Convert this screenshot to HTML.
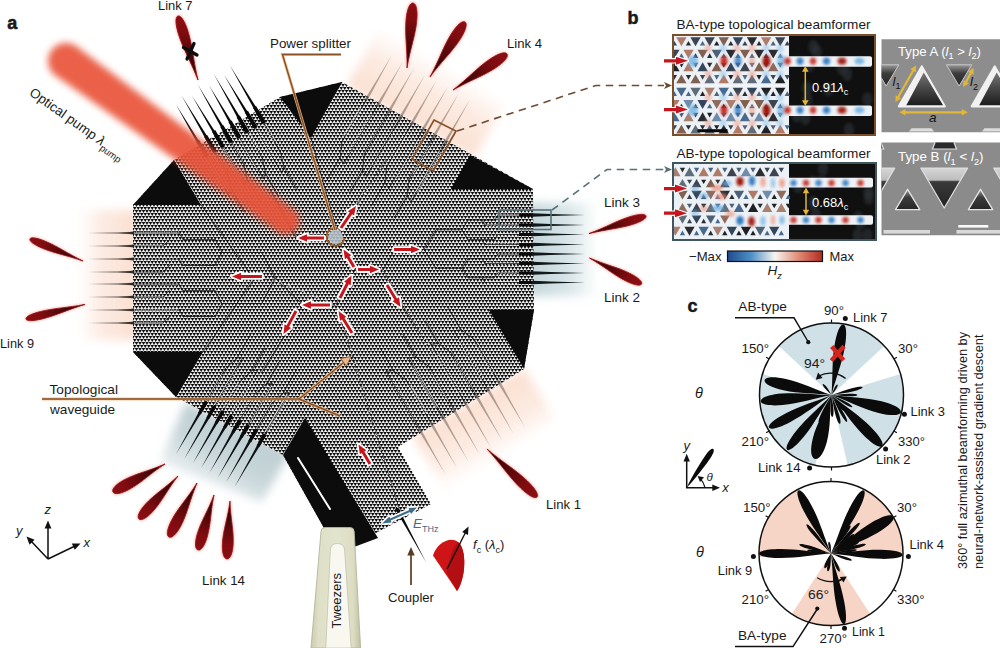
<!DOCTYPE html>
<html lang="en"><head><meta charset="utf-8"><title>Topological beamformer chip figure</title>
<style>
html,body{margin:0;padding:0;background:#fff;}
body{width:1000px;height:648px;overflow:hidden;font-family:"Liberation Sans", sans-serif;}
svg{display:block;}
svg text{font-family:"Liberation Sans", sans-serif;fill:#1a1a1a;}
.lobe{fill:url(#lg);}
</style></head><body>
<svg width="1000" height="648" viewBox="0 0 1000 648">
<defs>
<pattern id="lat" width="7" height="6" patternUnits="userSpaceOnUse"><rect width="7" height="6" fill="#f1f1f1"/><g fill="#0a0a0a"><polygon points="-1.78,-0.03 1.78,-0.03 0,3.06"/><polygon points="1.72,-0.03 5.28,-0.03 3.5,3.06"/><polygon points="5.22,-0.03 8.78,-0.03 7,3.06"/><polygon points="-0.03,2.97 3.53,2.97 1.75,6.06"/><polygon points="3.47,2.97 7.03,2.97 5.25,6.06"/><polygon points="-3.53,2.97 0.03,2.97 -1.75,6.06"/><polygon points="6.97,2.97 10.53,2.97 8.75,6.06"/><polygon points="-0.03,-3.03 3.53,-3.03 1.75,0.06"/><polygon points="3.47,-3.03 7.03,-3.03 5.25,0.06"/><polygon points="-1.78,5.97 1.78,5.97 0,9.06"/><polygon points="1.72,5.97 5.28,5.97 3.5,9.06"/><polygon points="5.22,5.97 8.78,5.97 7,9.06"/></g></pattern>
<filter id="b05" x="-10%" y="-10%" width="120%" height="120%"><feGaussianBlur stdDeviation="0.6"/></filter>
<filter id="b1" x="-30%" y="-30%" width="160%" height="160%"><feGaussianBlur stdDeviation="1"/></filter>
<filter id="b3" x="-30%" y="-30%" width="160%" height="160%"><feGaussianBlur stdDeviation="3.8"/></filter>
<filter id="b5" x="-30%" y="-30%" width="160%" height="160%"><feGaussianBlur stdDeviation="5"/></filter>
<filter id="b8" x="-40%" y="-40%" width="180%" height="180%"><feGaussianBlur stdDeviation="8"/></filter>
<filter id="b2" x="-30%" y="-30%" width="160%" height="160%"><feGaussianBlur stdDeviation="1.8"/></filter>
<linearGradient id="lg" x1="0" y1="0" x2="1" y2="0"><stop offset="0" stop-color="#160304"/><stop offset="0.35" stop-color="#4a0709"/><stop offset="0.75" stop-color="#800c10"/><stop offset="1" stop-color="#8c0e13"/></linearGradient>
<linearGradient id="cb" x1="0" y1="0" x2="1" y2="0"><stop offset="0" stop-color="#1f4b8e"/><stop offset="0.25" stop-color="#4f8fc6"/><stop offset="0.5" stop-color="#f7f5f3"/><stop offset="0.75" stop-color="#e08a74"/><stop offset="1" stop-color="#b22a22"/></linearGradient>
<linearGradient id="twz" x1="0" y1="0" x2="1" y2="0"><stop offset="0" stop-color="#c9caae"/><stop offset="0.15" stop-color="#dedfc6"/><stop offset="0.5" stop-color="#e3e4cd"/><stop offset="0.85" stop-color="#dcddc3"/><stop offset="1" stop-color="#bfc0a4"/></linearGradient>
<clipPath id="chipclip"><polygon points="342,82 533,189 534,310 524,369 398,447 431,504 338,553 283,455 176,397 133,352 133,205 174,160 280,97"/></clipPath>
</defs>
<rect width="1000" height="648" fill="#ffffff"/>
<defs><linearGradient id="g1" gradientUnits="userSpaceOnUse" x1="133" y1="0" x2="78" y2="0"><stop offset="0" stop-color="#fbe0d2" stop-opacity="1.0"/><stop offset="0.55" stop-color="#fbe0d2" stop-opacity="0.65"/><stop offset="1" stop-color="#fbe0d2" stop-opacity="0.0"/></linearGradient></defs>
<polygon points="140,210 140,340 78,340 78,210" fill="url(#g1)" filter="url(#b5)"/>
<defs><linearGradient id="g2" gradientUnits="userSpaceOnUse" x1="410" y1="120" x2="443" y2="63"><stop offset="0" stop-color="#fbe0d2" stop-opacity="1.0"/><stop offset="0.55" stop-color="#fbe0d2" stop-opacity="0.65"/><stop offset="1" stop-color="#fbe0d2" stop-opacity="0.0"/></linearGradient></defs>
<polygon points="346,86 380,28 508,100 474,158" fill="url(#g2)" filter="url(#b5)"/>
<defs><linearGradient id="g3" gradientUnits="userSpaceOnUse" x1="470" y1="404" x2="502" y2="459"><stop offset="0" stop-color="#fbe0d2" stop-opacity="1.0"/><stop offset="0.55" stop-color="#fbe0d2" stop-opacity="0.65"/><stop offset="1" stop-color="#fbe0d2" stop-opacity="0.0"/></linearGradient></defs>
<polygon points="412,436 524,368 556,420 446,490" fill="url(#g3)" filter="url(#b5)"/>
<defs><linearGradient id="g4" gradientUnits="userSpaceOnUse" x1="533" y1="0" x2="598" y2="0"><stop offset="0" stop-color="#c3d6da" stop-opacity="1.0"/><stop offset="0.55" stop-color="#c3d6da" stop-opacity="0.65"/><stop offset="1" stop-color="#c3d6da" stop-opacity="0.0"/></linearGradient></defs>
<polygon points="526,203 596,203 596,296 526,296" fill="url(#g4)" filter="url(#b5)"/>
<defs><linearGradient id="g5" gradientUnits="userSpaceOnUse" x1="240" y1="422" x2="204" y2="484"><stop offset="0" stop-color="#bccdd1" stop-opacity="1.0"/><stop offset="0.55" stop-color="#bccdd1" stop-opacity="0.8250000000000001"/><stop offset="1" stop-color="#bccdd1" stop-opacity="0.35"/></linearGradient></defs>
<polygon points="186,402 290,452 262,502 160,462" fill="url(#g5)" filter="url(#b5)"/>
<polygon points="342,82 533,189 534,310 524,369 398,447 431,504 338,553 283,455 176,397 133,352 133,205 174,160 280,97" fill="url(#lat)"/>
<g clip-path="url(#chipclip)" stroke="#ffffff" stroke-width="2.4" stroke-dasharray="1.4 2.1" fill="none" opacity="0.8">
<path d="M134,233 L178,233"/>
<path d="M134,246 L164,246"/>
<path d="M134,259 L178,259"/>
<path d="M134,272 L164,272"/>
<path d="M134,284 L178,284"/>
<path d="M134,297 L164,297"/>
<path d="M134,310 L178,310"/>
<path d="M134,323 L164,323"/>
<path d="M520,215 L496,215"/>
<path d="M520,225 L486,225"/>
<path d="M520,234.5 L496,234.5"/>
<path d="M520,244.5 L486,244.5"/>
<path d="M520,254 L496,254"/>
<path d="M520,263.5 L486,263.5"/>
<path d="M520,273 L496,273"/>
<path d="M520,282.5 L486,282.5"/>
<path d="M206.4,156.22 L225.4,189.13"/>
<path d="M214.56,151.4 L225.56,170.45"/>
<path d="M222.71,146.57 L241.71,179.48"/>
<path d="M230.87,141.74 L241.87,160.79"/>
<path d="M239.03,136.91 L258.03,169.82"/>
<path d="M247.19,132.08 L258.19,151.13"/>
<path d="M255.34,127.25 L274.34,160.16"/>
<path d="M263.5,122.42 L274.5,141.48"/>
<path d="M361,108.72 L345,136.44"/>
<path d="M372.19,115 L349.19,154.83"/>
<path d="M383.37,121.27 L367.37,148.98"/>
<path d="M394.56,127.54 L371.56,167.38"/>
<path d="M405.74,133.81 L389.74,161.52"/>
<path d="M416.93,140.08 L393.93,179.92"/>
<path d="M428.11,146.35 L412.11,174.07"/>
<path d="M439.3,152.62 L416.3,192.46"/>
<path d="M414,419.88 L391,380.04"/>
<path d="M425.33,413.09 L409.33,385.38"/>
<path d="M436.66,406.3 L413.66,366.47"/>
<path d="M447.99,399.52 L431.99,371.81"/>
<path d="M459.31,392.73 L436.31,352.9"/>
<path d="M470.64,385.95 L454.64,358.23"/>
<path d="M481.97,379.16 L458.97,339.32"/>
<path d="M493.3,372.38 L477.3,344.66"/>
<path d="M208.4,398.08 L222.4,373.83"/>
<path d="M216.77,402.73 L237.77,366.36"/>
<path d="M225.14,407.39 L239.14,383.14"/>
<path d="M233.51,412.05 L254.51,375.67"/>
<path d="M241.89,416.7 L255.89,392.46"/>
<path d="M250.26,421.36 L271.26,384.99"/>
<path d="M258.63,426.02 L272.63,401.77"/>
<path d="M267,430.68 L288,394.3"/>
</g>
<g clip-path="url(#chipclip)" stroke="#0d0d0d" stroke-width="0.9" fill="none" stroke-linecap="round" opacity="0.8">
<path d="M133,233 L179,233"/>
<path d="M133,246 L163,246"/>
<path d="M133,259 L179,259"/>
<path d="M133,272 L163,272"/>
<path d="M133,284 L179,284"/>
<path d="M133,297 L163,297"/>
<path d="M133,310 L179,310"/>
<path d="M133,323 L163,323"/>
<path d="M163,246 L169.75,239.5"/>
<path d="M179,233 L183,239.5"/>
<path d="M183,239.5 L215,239.5"/>
<path d="M163,272 L169.75,265.5"/>
<path d="M179,259 L183,265.5"/>
<path d="M183,265.5 L215,265.5"/>
<path d="M163,297 L169.75,290.5"/>
<path d="M179,284 L183,290.5"/>
<path d="M183,290.5 L215,290.5"/>
<path d="M163,323 L169.75,316.5"/>
<path d="M179,310 L183,316.5"/>
<path d="M183,316.5 L215,316.5"/>
<path d="M215,239.5 L222,252.5"/>
<path d="M215,265.5 L222,252.5"/>
<path d="M222,252.5 L262,252.5"/>
<path d="M215,290.5 L222,303.5"/>
<path d="M215,316.5 L222,303.5"/>
<path d="M222,303.5 L262,303.5"/>
<path d="M262,253 L275,278"/>
<path d="M262,303 L275,278"/>
<path d="M275,278 L303,305"/>
<path d="M303,305 L336,305"/>
<path d="M533,215 L498,215"/>
<path d="M533,225 L485,225"/>
<path d="M533,234.5 L498,234.5"/>
<path d="M533,244.5 L485,244.5"/>
<path d="M533,254 L498,254"/>
<path d="M533,263.5 L485,263.5"/>
<path d="M533,273 L498,273"/>
<path d="M533,282.5 L485,282.5"/>
<path d="M498,215 L494,220"/>
<path d="M485,225 L482,220"/>
<path d="M494,220 L468,220"/>
<path d="M498,234.5 L494,239.5"/>
<path d="M485,244.5 L482,239.5"/>
<path d="M494,239.5 L468,239.5"/>
<path d="M498,254 L494,258.75"/>
<path d="M485,263.5 L482,258.75"/>
<path d="M494,258.75 L468,258.75"/>
<path d="M498,273 L494,277.75"/>
<path d="M485,282.5 L482,277.75"/>
<path d="M494,277.75 L468,277.75"/>
<path d="M468,220 L462,229.75"/>
<path d="M468,239.5 L462,229.75"/>
<path d="M462,229.75 L436,229.75"/>
<path d="M468,258.75 L462,268.25"/>
<path d="M468,277.75 L462,268.25"/>
<path d="M462,268.25 L436,268.25"/>
<path d="M436,229.75 L424,249.5"/>
<path d="M436,268.25 L424,249.5"/>
<path d="M424,249.5 L395,249.5"/>
<path d="M395,249.5 L383,270"/>
<path d="M199.4,144.1 L228.4,194.33"/>
<path d="M207.56,139.27 L227.56,173.91"/>
<path d="M215.71,134.44 L244.71,184.67"/>
<path d="M223.87,129.61 L243.87,164.26"/>
<path d="M232.03,124.79 L263.03,178.48"/>
<path d="M240.19,119.96 L262.19,158.06"/>
<path d="M248.34,115.13 L281.34,172.29"/>
<path d="M256.5,110.3 L280.5,151.87"/>
<path d="M228.4,194.33 L230.98,189.32"/>
<path d="M227.56,173.91 L230.98,189.32"/>
<path d="M230.98,189.32 L243.98,211.83"/>
<path d="M244.71,184.67 L247.29,179.66"/>
<path d="M243.87,164.26 L247.29,179.66"/>
<path d="M247.29,179.66 L260.29,202.18"/>
<path d="M263.03,178.48 L265.61,173.47"/>
<path d="M262.19,158.06 L265.61,173.47"/>
<path d="M265.61,173.47 L278.61,195.98"/>
<path d="M281.34,172.29 L283.92,167.27"/>
<path d="M280.5,151.87 L283.92,167.27"/>
<path d="M283.92,167.27 L296.92,189.79"/>
<path d="M368,96.6 L342,141.63"/>
<path d="M379.19,102.87 L344.19,163.49"/>
<path d="M390.37,109.14 L364.37,154.18"/>
<path d="M401.56,115.41 L366.56,176.04"/>
<path d="M412.74,121.69 L386.74,166.72"/>
<path d="M423.93,127.96 L388.93,188.58"/>
<path d="M435.11,134.23 L409.11,179.26"/>
<path d="M446.3,140.5 L411.3,201.12"/>
<path d="M342,141.63 L340.09,157.76"/>
<path d="M344.19,163.49 L340.09,157.76"/>
<path d="M340.09,157.76 L327.09,180.28"/>
<path d="M364.37,154.18 L362.46,170.3"/>
<path d="M366.56,176.04 L362.46,170.3"/>
<path d="M362.46,170.3 L349.46,192.82"/>
<path d="M386.74,166.72 L384.84,182.85"/>
<path d="M388.93,188.58 L384.84,182.85"/>
<path d="M384.84,182.85 L371.84,205.36"/>
<path d="M409.11,179.26 L407.21,195.39"/>
<path d="M411.3,201.12 L407.21,195.39"/>
<path d="M407.21,195.39 L394.21,217.9"/>
<path d="M421,432 L386,371.38"/>
<path d="M432.33,425.21 L406.33,380.18"/>
<path d="M443.66,418.43 L408.66,357.81"/>
<path d="M454.99,411.64 L428.99,366.61"/>
<path d="M466.31,404.86 L431.31,344.24"/>
<path d="M477.64,398.07 L451.64,353.04"/>
<path d="M488.97,391.29 L453.97,330.66"/>
<path d="M500.3,384.5 L474.3,339.47"/>
<path d="M386,371.38 L393.16,370.58"/>
<path d="M406.33,380.18 L393.16,370.58"/>
<path d="M393.16,370.58 L380.16,348.07"/>
<path d="M408.66,357.81 L415.82,357.01"/>
<path d="M428.99,366.61 L415.82,357.01"/>
<path d="M415.82,357.01 L402.82,334.5"/>
<path d="M431.31,344.24 L438.48,343.44"/>
<path d="M451.64,353.04 L438.48,343.44"/>
<path d="M438.48,343.44 L425.48,320.92"/>
<path d="M453.97,330.66 L461.14,329.87"/>
<path d="M474.3,339.47 L461.14,329.87"/>
<path d="M461.14,329.87 L448.14,307.35"/>
<path d="M201.4,410.2 L225.4,368.63"/>
<path d="M209.77,414.86 L242.77,357.7"/>
<path d="M218.14,419.51 L240.14,381.41"/>
<path d="M226.51,424.17 L257.51,370.48"/>
<path d="M234.89,428.83 L254.89,394.19"/>
<path d="M243.26,433.49 L272.26,383.26"/>
<path d="M251.63,438.14 L271.63,403.5"/>
<path d="M260,442.8 L289,392.57"/>
<path d="M225.4,368.63 L237.09,357.97"/>
<path d="M242.77,357.7 L237.09,357.97"/>
<path d="M237.09,357.97 L250.09,335.45"/>
<path d="M240.14,381.41 L251.83,370.75"/>
<path d="M257.51,370.48 L251.83,370.75"/>
<path d="M251.83,370.75 L264.83,348.23"/>
<path d="M254.89,394.19 L266.57,383.53"/>
<path d="M272.26,383.26 L266.57,383.53"/>
<path d="M266.57,383.53 L279.57,361.01"/>
<path d="M271.63,403.5 L283.31,392.84"/>
<path d="M289,392.57 L283.31,392.84"/>
<path d="M283.31,392.84 L296.31,370.32"/>
<path d="M400,512 L339,312"/>
<path d="M336,305 L355,270"/>
<path d="M355,270 L336,237"/>
<path d="M355,270 L383,270"/>
<path d="M336,237 L296,237"/>
<path d="M336,237 L357,204"/>
<path d="M357,204 L386,160"/>
<path d="M296,237 L270,190"/>
<path d="M383,270 L404,308"/>
<path d="M404,308 L432,352"/>
<path d="M303,305 L283,338"/>
<path d="M283,338 L262,372"/>
<path d="M201,205 L254,279"/>
<path d="M203,352 L254,279"/>
<path d="M311,138 L336,228"/>
</g>
<g clip-path="url(#chipclip)" stroke="#fff" stroke-width="1.3" stroke-dasharray="1.2 3.8" opacity="0.85">
<path d="M398,508 L340,314" fill="none"/><path d="M336,237 L298,237" fill="none"/><path d="M337,236 L386,160" fill="none"/><path d="M270,278 L336,305" fill="none"/><path d="M383,270 L432,352" fill="none"/>
</g>
<polygon points="280,97 342,82 311,138" fill="#0c0c0c"/>
<polygon points="133,205 174,160 201,205" fill="#0c0c0c"/>
<polygon points="133,352 203,352 176,397" fill="#0c0c0c"/>
<polygon points="451,189 470,155 533,189" fill="#0c0c0c"/>
<polygon points="489,310 534,310 524,369" fill="#0c0c0c"/>
<polygon points="305,418 283,455 338,553 378,538" fill="#0c0c0c"/>
<path d="M298,458 L330,509" stroke="#fff" stroke-width="2" stroke-linecap="round"/>
<g filter="url(#b05)">
<polygon points="134,231.7 117.9,232.28 88,233 117.9,233.72 134,234.3" fill="#4a4340" opacity="0.62"/>
<polygon points="134,231.6 128.4,232.23 118,233 128.4,233.77 134,234.4" fill="#1a1716" opacity="0.8"/>
<polygon points="134,244.7 117.9,245.28 88,246 117.9,246.72 134,247.3" fill="#4a4340" opacity="0.62"/>
<polygon points="134,244.6 128.4,245.23 118,246 128.4,246.77 134,247.4" fill="#1a1716" opacity="0.8"/>
<polygon points="134,257.7 117.9,258.29 88,259 117.9,259.71 134,260.3" fill="#4a4340" opacity="0.62"/>
<polygon points="134,257.6 128.4,258.23 118,259 128.4,259.77 134,260.4" fill="#1a1716" opacity="0.8"/>
<polygon points="134,270.7 117.9,271.29 88,272 117.9,272.71 134,273.3" fill="#4a4340" opacity="0.62"/>
<polygon points="134,270.6 128.4,271.23 118,272 128.4,272.77 134,273.4" fill="#1a1716" opacity="0.8"/>
<polygon points="134,282.7 117.9,283.29 88,284 117.9,284.71 134,285.3" fill="#4a4340" opacity="0.62"/>
<polygon points="134,282.6 128.4,283.23 118,284 128.4,284.77 134,285.4" fill="#1a1716" opacity="0.8"/>
<polygon points="134,295.7 117.9,296.29 88,297 117.9,297.71 134,298.3" fill="#4a4340" opacity="0.62"/>
<polygon points="134,295.6 128.4,296.23 118,297 128.4,297.77 134,298.4" fill="#1a1716" opacity="0.8"/>
<polygon points="134,308.7 117.9,309.29 88,310 117.9,310.71 134,311.3" fill="#4a4340" opacity="0.62"/>
<polygon points="134,308.6 128.4,309.23 118,310 128.4,310.77 134,311.4" fill="#1a1716" opacity="0.8"/>
<polygon points="134,321.7 117.9,322.29 88,323 117.9,323.71 134,324.3" fill="#4a4340" opacity="0.62"/>
<polygon points="134,321.6 128.4,322.23 118,323 128.4,323.77 134,324.4" fill="#1a1716" opacity="0.8"/>
</g>
<rect x="519" y="213.5" width="14" height="3" fill="#0a0a0a"/>
<polygon points="532,216.65 550.55,215.91 585,215 550.55,214.09 532,213.35" fill="#10181a" opacity="1"/>
<rect x="519" y="223.5" width="14" height="3" fill="#0a0a0a"/>
<polygon points="532,226.65 550.55,225.91 585,225 550.55,224.09 532,223.35" fill="#10181a" opacity="1"/>
<rect x="519" y="233" width="14" height="3" fill="#0a0a0a"/>
<polygon points="532,236.15 550.55,235.41 585,234.5 550.55,233.59 532,232.85" fill="#10181a" opacity="1"/>
<rect x="519" y="243" width="14" height="3" fill="#0a0a0a"/>
<polygon points="532,246.15 550.55,245.41 585,244.5 550.55,243.59 532,242.85" fill="#10181a" opacity="1"/>
<rect x="519" y="252.5" width="14" height="3" fill="#0a0a0a"/>
<polygon points="532,255.65 550.55,254.91 585,254 550.55,253.09 532,252.35" fill="#10181a" opacity="1"/>
<rect x="519" y="262" width="14" height="3" fill="#0a0a0a"/>
<polygon points="532,265.15 550.55,264.41 585,263.5 550.55,262.59 532,261.85" fill="#10181a" opacity="1"/>
<rect x="519" y="271.5" width="14" height="3" fill="#0a0a0a"/>
<polygon points="532,274.65 550.55,273.91 585,273 550.55,272.09 532,271.35" fill="#10181a" opacity="1"/>
<rect x="519" y="281" width="14" height="3" fill="#0a0a0a"/>
<polygon points="532,284.15 550.55,283.41 585,282.5 550.55,281.59 532,280.85" fill="#10181a" opacity="1"/>
<polygon points="208.21,155.16 196.76,137.57 176,104.6 194.76,138.74 204.59,157.29" fill="#0a0a0a" opacity="1"/>
<path d="M197.4,140.64 L206.9,157.09" stroke="#0a0a0a" stroke-width="3.6"/>
<polygon points="216.37,150.33 204.05,131.32 181.7,95.7 202.06,132.49 212.75,152.46" fill="#0a0a0a" opacity="1"/>
<path d="M205.56,135.81 L215.06,152.26" stroke="#0a0a0a" stroke-width="3.6"/>
<polygon points="224.51,145.48 212.95,128.17 192,95.7 210.98,129.36 220.92,147.65" fill="#0a0a0a" opacity="1"/>
<path d="M213.71,130.98 L223.21,147.43" stroke="#0a0a0a" stroke-width="3.6"/>
<polygon points="232.69,140.69 220.26,121.13 197.7,84.5 218.26,122.28 229.05,142.79" fill="#0a0a0a" opacity="1"/>
<path d="M221.87,126.15 L231.37,142.6" stroke="#0a0a0a" stroke-width="3.6"/>
<polygon points="240.84,135.85 229.52,118.27 209,85.3 227.52,119.43 237.21,137.97" fill="#0a0a0a" opacity="1"/>
<path d="M230.03,121.32 L239.53,137.78" stroke="#0a0a0a" stroke-width="3.6"/>
<polygon points="249.01,131.03 236.5,111.18 213.8,74 234.5,112.33 245.37,133.13" fill="#0a0a0a" opacity="1"/>
<path d="M238.19,116.49 L247.69,132.95" stroke="#0a0a0a" stroke-width="3.6"/>
<polygon points="257.15,126.18 245.44,108.34 224.2,74.9 243.45,109.52 253.54,128.33" fill="#0a0a0a" opacity="1"/>
<path d="M246.34,111.66 L255.84,128.12" stroke="#0a0a0a" stroke-width="3.6"/>
<polygon points="265.31,121.36 252.7,101.81 229.8,65.2 250.71,102.98 261.69,123.49" fill="#0a0a0a" opacity="1"/>
<path d="M254.5,106.84 L264,123.29" stroke="#0a0a0a" stroke-width="3.6"/>
<polygon points="367.3,100.81 375.81,84.71 392,55.03 374.39,83.89 364.7,99.31" fill="#7d6a60" opacity="0.6"/>
<polygon points="378.48,107.09 387,90.99 403.19,61.3 385.57,90.16 375.89,105.59" fill="#7d6a60" opacity="0.6"/>
<polygon points="389.67,113.36 398.19,97.26 414.37,67.57 396.76,96.43 387.07,111.86" fill="#7d6a60" opacity="0.6"/>
<polygon points="400.86,119.63 409.37,103.53 425.56,73.85 407.94,102.7 398.26,118.13" fill="#7d6a60" opacity="0.6"/>
<polygon points="412.04,125.9 420.56,109.8 436.74,80.12 419.13,108.98 409.44,124.4" fill="#7d6a60" opacity="0.6"/>
<polygon points="423.23,132.17 431.74,116.07 447.93,86.39 430.31,115.25 420.63,130.67" fill="#7d6a60" opacity="0.6"/>
<polygon points="434.41,138.44 442.93,122.34 459.11,92.66 441.5,121.52 431.82,136.94" fill="#7d6a60" opacity="0.6"/>
<polygon points="445.6,144.71 454.11,128.61 470.3,98.93 452.69,127.79 443,143.21" fill="#7d6a60" opacity="0.6"/>
<polygon points="417.7,429.29 427.74,445.32 446,475.3 429.16,444.49 420.3,427.79" fill="#7d6a60" opacity="0.6"/>
<polygon points="429.03,422.5 439.06,438.53 457.33,468.52 440.49,437.71 431.63,421" fill="#7d6a60" opacity="0.6"/>
<polygon points="440.36,415.71 450.39,431.74 468.66,461.73 451.82,430.92 442.96,414.21" fill="#7d6a60" opacity="0.6"/>
<polygon points="451.69,408.93 461.72,424.96 479.99,454.94 463.15,424.13 454.28,407.43" fill="#7d6a60" opacity="0.6"/>
<polygon points="463.02,402.14 473.05,418.17 491.31,448.16 474.48,417.35 465.61,400.64" fill="#7d6a60" opacity="0.6"/>
<polygon points="474.34,395.36 484.38,411.39 502.64,441.37 485.81,410.56 476.94,393.86" fill="#7d6a60" opacity="0.6"/>
<polygon points="485.67,388.57 495.71,404.6 513.97,434.59 497.14,403.78 488.27,387.07" fill="#7d6a60" opacity="0.6"/>
<polygon points="497,381.79 507.04,397.82 525.3,427.8 508.46,396.99 499.6,380.29" fill="#7d6a60" opacity="0.6"/>
<polygon points="204.25,401.46 194.5,420.07 175.9,454.37 196.3,421.11 207.55,403.36" fill="#0c1113" opacity="1"/>
<path d="M206.4,401.54 L199.4,413.66" stroke="#0a0a0a" stroke-width="3.2"/>
<polygon points="212.63,406.11 202.87,424.73 184.27,459.02 204.68,425.77 215.92,408.01" fill="#0c1113" opacity="1"/>
<path d="M214.77,406.2 L207.77,418.32" stroke="#0a0a0a" stroke-width="3.2"/>
<polygon points="221,410.77 211.24,429.38 192.64,463.68 213.05,430.43 224.29,412.67" fill="#0c1113" opacity="1"/>
<path d="M223.14,410.85 L216.14,422.98" stroke="#0a0a0a" stroke-width="3.2"/>
<polygon points="229.37,415.43 219.61,434.04 201.01,468.34 221.42,435.09 232.66,417.33" fill="#0c1113" opacity="1"/>
<path d="M231.51,415.51 L224.51,427.64" stroke="#0a0a0a" stroke-width="3.2"/>
<polygon points="237.74,420.08 227.98,438.7 209.39,473 229.79,439.74 241.03,421.98" fill="#0c1113" opacity="1"/>
<path d="M239.89,420.17 L232.89,432.29" stroke="#0a0a0a" stroke-width="3.2"/>
<polygon points="246.11,424.74 236.35,443.36 217.76,477.65 238.16,444.4 249.4,426.64" fill="#0c1113" opacity="1"/>
<path d="M248.26,424.83 L241.26,436.95" stroke="#0a0a0a" stroke-width="3.2"/>
<polygon points="254.48,429.4 244.72,448.01 226.13,482.31 246.53,449.06 257.77,431.3" fill="#0c1113" opacity="1"/>
<path d="M256.63,429.48 L249.63,441.61" stroke="#0a0a0a" stroke-width="3.2"/>
<polygon points="262.85,434.06 253.1,452.67 234.5,486.97 254.9,453.71 266.15,435.96" fill="#0c1113" opacity="1"/>
<path d="M265,434.14 L258,446.26" stroke="#0a0a0a" stroke-width="3.2"/>
<circle cx="335.5" cy="237" r="7.5" fill="#b9c6cc" opacity="0.85"/>
<path d="M341,229.5 A9,9 0 1 0 344.5,238" fill="none" stroke="#9a5a2a" stroke-width="1.8"/>
<polygon points="342.24,228.85 352.17,214.28 354.03,215.55 356,206 347.83,211.32 349.69,212.59 339.76,227.15" fill="#fff" stroke="#fff" stroke-width="3.6" stroke-linejoin="round"/><polygon points="342.24,228.85 352.17,214.28 354.03,215.55 356,206 347.83,211.32 349.69,212.59 339.76,227.15" fill="#c4161c"/>
<polygon points="324,236.5 307,236.5 307,234.25 298,238 307,241.75 307,239.5 324,239.5" fill="#fff" stroke="#fff" stroke-width="3.6" stroke-linejoin="round"/><polygon points="324,236.5 307,236.5 307,234.25 298,238 307,241.75 307,239.5 324,239.5" fill="#c4161c"/>
<polygon points="394,251.1 411,251.1 411,253.35 420,249.6 411,245.85 411,248.1 394,248.1" fill="#fff" stroke="#fff" stroke-width="3.6" stroke-linejoin="round"/><polygon points="394,251.1 411,251.1 411,253.35 420,249.6 411,245.85 411,248.1 394,248.1" fill="#c4161c"/>
<polygon points="355.29,266.23 349.42,256.45 351.35,255.29 343.5,249.5 344.91,259.15 346.84,257.99 352.71,267.77" fill="#fff" stroke="#fff" stroke-width="3.6" stroke-linejoin="round"/><polygon points="355.29,266.23 349.42,256.45 351.35,255.29 343.5,249.5 344.91,259.15 346.84,257.99 352.71,267.77" fill="#c4161c"/>
<polygon points="358,271.1 370,271.1 370,273.35 379,269.6 370,265.85 370,268.1 358,268.1" fill="#fff" stroke="#fff" stroke-width="3.6" stroke-linejoin="round"/><polygon points="358,271.1 370,271.1 370,273.35 379,269.6 370,265.85 370,268.1 358,268.1" fill="#c4161c"/>
<polygon points="341.34,298.68 348.74,284.2 350.74,285.22 351.5,275.5 344.06,281.81 346.07,282.83 338.66,297.32" fill="#fff" stroke="#fff" stroke-width="3.6" stroke-linejoin="round"/><polygon points="341.34,298.68 348.74,284.2 350.74,285.22 351.5,275.5 344.06,281.81 346.07,282.83 338.66,297.32" fill="#c4161c"/>
<polygon points="385.72,285.78 394.51,300.11 392.6,301.29 400.5,307 398.99,297.37 397.07,298.54 388.28,284.22" fill="#fff" stroke="#fff" stroke-width="3.6" stroke-linejoin="round"/><polygon points="385.72,285.78 394.51,300.11 392.6,301.29 400.5,307 398.99,297.37 397.07,298.54 388.28,284.22" fill="#c4161c"/>
<polygon points="262,274.9 241,274.9 241,272.65 232,276.4 241,280.15 241,277.9 262,277.9" fill="#fff" stroke="#fff" stroke-width="3.6" stroke-linejoin="round"/><polygon points="262,274.9 241,274.9 241,272.65 232,276.4 241,280.15 241,277.9 262,277.9" fill="#c4161c"/>
<polygon points="330,303.5 311,303.5 311,301.25 302,305 311,308.75 311,306.5 330,306.5" fill="#fff" stroke="#fff" stroke-width="3.6" stroke-linejoin="round"/><polygon points="330,303.5 311,303.5 311,301.25 302,305 311,308.75 311,306.5 330,306.5" fill="#c4161c"/>
<polygon points="294.68,310.28 286.48,325.38 284.5,324.3 283.5,334 291.09,327.88 289.12,326.81 297.32,311.72" fill="#fff" stroke="#fff" stroke-width="3.6" stroke-linejoin="round"/><polygon points="294.68,310.28 286.48,325.38 284.5,324.3 283.5,334 291.09,327.88 289.12,326.81 297.32,311.72" fill="#c4161c"/>
<polygon points="353.28,332.22 344.49,317.89 346.4,316.71 338.5,311 340.01,320.63 341.93,319.46 350.72,333.78" fill="#fff" stroke="#fff" stroke-width="3.6" stroke-linejoin="round"/><polygon points="353.28,332.22 344.49,317.89 346.4,316.71 338.5,311 340.01,320.63 341.93,319.46 350.72,333.78" fill="#c4161c"/>
<polygon points="371.29,463.24 364.36,451.49 366.3,450.35 358.5,444.5 359.84,454.16 361.78,453.01 368.71,464.76" fill="#fff" stroke="#fff" stroke-width="3.6" stroke-linejoin="round"/><polygon points="371.29,463.24 364.36,451.49 366.3,450.35 358.5,444.5 359.84,454.16 361.78,453.01 368.71,464.76" fill="#c4161c"/>
<g filter="url(#b3)" opacity="0.93"><polygon points="76.58,46.44 293.94,210.08 278.06,231.92 55.42,75.56" fill="#e9553b"/><circle cx="66" cy="61" r="18" fill="#e9553b"/><circle cx="286" cy="221" r="13.5" fill="#e9553b"/></g>
<g transform="translate(198,80) rotate(-107.35)"><path d="M0,0 C20.12,-1.25 33.53,-5 49.62,-5 C60.35,-5 67.05,-3 67.05,0 C67.05,3 60.35,5 49.62,5 C33.53,5 20.12,1.25 0,0Z" fill="#f7cdc6" stroke="#f7cdc6" stroke-width="2.6" filter="url(#b1)"/><path d="M0,0 C20.12,-1.25 33.53,-5 49.62,-5 C60.35,-5 67.05,-3 67.05,0 C67.05,3 60.35,5 49.62,5 C33.53,5 20.12,1.25 0,0Z" class="lobe" stroke="#9a1217" stroke-width="0.8" /></g>
<g transform="translate(407,68) rotate(-84.73)"><path d="M0,0 C19.58,-1.35 32.64,-5.4 48.3,-5.4 C58.75,-5.4 65.28,-3.24 65.28,0 C65.28,3.24 58.75,5.4 48.3,5.4 C32.64,5.4 19.58,1.35 0,0Z" fill="#f7cdc6" stroke="#f7cdc6" stroke-width="2.6" filter="url(#b1)"/><path d="M0,0 C19.58,-1.35 32.64,-5.4 48.3,-5.4 C58.75,-5.4 65.28,-3.24 65.28,0 C65.28,3.24 58.75,5.4 48.3,5.4 C32.64,5.4 19.58,1.35 0,0Z" class="lobe" stroke="#9a1217" stroke-width="0.8" /></g>
<g transform="translate(430,77) rotate(-57.53)"><path d="M0,0 C19.56,-1.3 32.6,-5.2 48.24,-5.2 C58.67,-5.2 65.19,-3.12 65.19,0 C65.19,3.12 58.67,5.2 48.24,5.2 C32.6,5.2 19.56,1.3 0,0Z" fill="#f7cdc6" stroke="#f7cdc6" stroke-width="2.6" filter="url(#b1)"/><path d="M0,0 C19.56,-1.3 32.6,-5.2 48.24,-5.2 C58.67,-5.2 65.19,-3.12 65.19,0 C65.19,3.12 58.67,5.2 48.24,5.2 C32.6,5.2 19.56,1.3 0,0Z" class="lobe" stroke="#9a1217" stroke-width="0.8" /></g>
<g transform="translate(453,90) rotate(-33.69)"><path d="M0,0 C19.47,-1.3 32.45,-5.2 48.03,-5.2 C58.41,-5.2 64.9,-3.12 64.9,0 C64.9,3.12 58.41,5.2 48.03,5.2 C32.45,5.2 19.47,1.3 0,0Z" fill="#f7cdc6" stroke="#f7cdc6" stroke-width="2.6" filter="url(#b1)"/><path d="M0,0 C19.47,-1.3 32.45,-5.2 48.03,-5.2 C58.41,-5.2 64.9,-3.12 64.9,0 C64.9,3.12 58.41,5.2 48.03,5.2 C32.45,5.2 19.47,1.3 0,0Z" class="lobe" stroke="#9a1217" stroke-width="0.8" /></g>
<g transform="translate(589,233.6) rotate(-17.16)"><path d="M0,0 C17.9,-1.02 29.83,-4.1 44.14,-4.1 C53.69,-4.1 59.66,-2.46 59.66,0 C59.66,2.46 53.69,4.1 44.14,4.1 C29.83,4.1 17.9,1.02 0,0Z" fill="#f7cdc6" stroke="#f7cdc6" stroke-width="2.6" filter="url(#b1)"/><path d="M0,0 C17.9,-1.02 29.83,-4.1 44.14,-4.1 C53.69,-4.1 59.66,-2.46 59.66,0 C59.66,2.46 53.69,4.1 44.14,4.1 C29.83,4.1 17.9,1.02 0,0Z" class="lobe" stroke="#9a1217" stroke-width="0.8" /></g>
<g transform="translate(589.5,258) rotate(26.57)"><path d="M0,0 C17.44,-1.07 29.07,-4.3 43.02,-4.3 C52.32,-4.3 58.14,-2.58 58.14,0 C58.14,2.58 52.32,4.3 43.02,4.3 C29.07,4.3 17.44,1.07 0,0Z" fill="#f7cdc6" stroke="#f7cdc6" stroke-width="2.6" filter="url(#b1)"/><path d="M0,0 C17.44,-1.07 29.07,-4.3 43.02,-4.3 C52.32,-4.3 58.14,-2.58 58.14,0 C58.14,2.58 52.32,4.3 43.02,4.3 C29.07,4.3 17.44,1.07 0,0Z" class="lobe" stroke="#9a1217" stroke-width="0.8" /></g>
<g transform="translate(487,449) rotate(43.83)"><path d="M0,0 C20.79,-1.23 34.66,-4.9 51.29,-4.9 C62.38,-4.9 69.31,-2.94 69.31,0 C69.31,2.94 62.38,4.9 51.29,4.9 C34.66,4.9 20.79,1.23 0,0Z" fill="#f7cdc6" stroke="#f7cdc6" stroke-width="2.6" filter="url(#b1)"/><path d="M0,0 C20.79,-1.23 34.66,-4.9 51.29,-4.9 C62.38,-4.9 69.31,-2.94 69.31,0 C69.31,2.94 62.38,4.9 51.29,4.9 C34.66,4.9 20.79,1.23 0,0Z" class="lobe" stroke="#9a1217" stroke-width="0.8" /></g>
<g transform="translate(165,464) rotate(151.7)"><path d="M0,0 C17.72,-1.35 29.53,-5.4 43.7,-5.4 C53.15,-5.4 59.06,-3.24 59.06,0 C59.06,3.24 53.15,5.4 43.7,5.4 C29.53,5.4 17.72,1.35 0,0Z" fill="#f7cdc6" stroke="#f7cdc6" stroke-width="2.6" filter="url(#b1)"/><path d="M0,0 C17.72,-1.35 29.53,-5.4 43.7,-5.4 C53.15,-5.4 59.06,-3.24 59.06,0 C59.06,3.24 53.15,5.4 43.7,5.4 C29.53,5.4 17.72,1.35 0,0Z" class="lobe" stroke="#9a1217" stroke-width="0.8" /></g>
<g transform="translate(178,476) rotate(132.21)"><path d="M0,0 C17.42,-1.3 29.03,-5.2 42.96,-5.2 C52.25,-5.2 58.05,-3.12 58.05,0 C58.05,3.12 52.25,5.2 42.96,5.2 C29.03,5.2 17.42,1.3 0,0Z" fill="#f7cdc6" stroke="#f7cdc6" stroke-width="2.6" filter="url(#b1)"/><path d="M0,0 C17.42,-1.3 29.03,-5.2 42.96,-5.2 C52.25,-5.2 58.05,-3.12 58.05,0 C58.05,3.12 52.25,5.2 42.96,5.2 C29.03,5.2 17.42,1.3 0,0Z" class="lobe" stroke="#9a1217" stroke-width="0.8" /></g>
<g transform="translate(197,483) rotate(117.41)"><path d="M0,0 C18.25,-1.35 30.41,-5.4 45.01,-5.4 C54.74,-5.4 60.83,-3.24 60.83,0 C60.83,3.24 54.74,5.4 45.01,5.4 C30.41,5.4 18.25,1.35 0,0Z" fill="#f7cdc6" stroke="#f7cdc6" stroke-width="2.6" filter="url(#b1)"/><path d="M0,0 C18.25,-1.35 30.41,-5.4 45.01,-5.4 C54.74,-5.4 60.83,-3.24 60.83,0 C60.83,3.24 54.74,5.4 45.01,5.4 C30.41,5.4 18.25,1.35 0,0Z" class="lobe" stroke="#9a1217" stroke-width="0.8" /></g>
<g transform="translate(214,495) rotate(106.22)"><path d="M0,0 C17.18,-1.3 28.64,-5.2 42.39,-5.2 C51.55,-5.2 57.28,-3.12 57.28,0 C57.28,3.12 51.55,5.2 42.39,5.2 C28.64,5.2 17.18,1.3 0,0Z" fill="#f7cdc6" stroke="#f7cdc6" stroke-width="2.6" filter="url(#b1)"/><path d="M0,0 C17.18,-1.3 28.64,-5.2 42.39,-5.2 C51.55,-5.2 57.28,-3.12 57.28,0 C57.28,3.12 51.55,5.2 42.39,5.2 C28.64,5.2 17.18,1.3 0,0Z" class="lobe" stroke="#9a1217" stroke-width="0.8" /></g>
<g transform="translate(230,501) rotate(92.96)"><path d="M0,0 C17.42,-1.35 29.04,-5.4 42.98,-5.4 C52.27,-5.4 58.08,-3.24 58.08,0 C58.08,3.24 52.27,5.4 42.98,5.4 C29.04,5.4 17.42,1.35 0,0Z" fill="#f7cdc6" stroke="#f7cdc6" stroke-width="2.6" filter="url(#b1)"/><path d="M0,0 C17.42,-1.35 29.04,-5.4 42.98,-5.4 C52.27,-5.4 58.08,-3.24 58.08,0 C58.08,3.24 52.27,5.4 42.98,5.4 C29.04,5.4 17.42,1.35 0,0Z" class="lobe" stroke="#9a1217" stroke-width="0.8" /></g>
<g transform="translate(83,261) rotate(-157.46)"><path d="M0,0 C17.22,-0.95 28.69,-3.8 42.46,-3.8 C51.65,-3.8 57.38,-2.28 57.38,0 C57.38,2.28 51.65,3.8 42.46,3.8 C28.69,3.8 17.22,0.95 0,0Z" fill="#f7cdc6" stroke="#f7cdc6" stroke-width="2.6" filter="url(#b1)"/><path d="M0,0 C17.22,-0.95 28.69,-3.8 42.46,-3.8 C51.65,-3.8 57.38,-2.28 57.38,0 C57.38,2.28 51.65,3.8 42.46,3.8 C28.69,3.8 17.22,0.95 0,0Z" class="lobe" stroke="#9a1217" stroke-width="0.8" /></g>
<g transform="translate(85,304.4) rotate(166.1)"><path d="M0,0 C18.23,-0.95 30.39,-3.8 44.98,-3.8 C54.7,-3.8 60.78,-2.28 60.78,0 C60.78,2.28 54.7,3.8 44.98,3.8 C30.39,3.8 18.23,0.95 0,0Z" fill="#f7cdc6" stroke="#f7cdc6" stroke-width="2.6" filter="url(#b1)"/><path d="M0,0 C18.23,-0.95 30.39,-3.8 44.98,-3.8 C54.7,-3.8 60.78,-2.28 60.78,0 C60.78,2.28 54.7,3.8 44.98,3.8 C30.39,3.8 18.23,0.95 0,0Z" class="lobe" stroke="#9a1217" stroke-width="0.8" /></g>
<path d="M183.5,47.5 L197,55 M194,43.5 L187,59" stroke="#0d0d0d" stroke-width="3.3" stroke-linecap="round"/>
<path d="M321,531.5 Q321,527.5 325,527.5 L350,527.5 Q354,527.5 354.2,531.5 L360.6,648 L311,648 Z" fill="url(#twz)" stroke="#b4b59c" stroke-width="0.9"/>
<path d="M330.3,550 Q330.6,543.5 337.4,543.5 Q344.2,543.5 344.6,550 L351.2,648 L325.8,648 Z" fill="#f8f8f1" stroke="#c3c4ab" stroke-width="0.8"/>
<path d="M341,54.6 L282.5,54.6 L335,230" fill="none" stroke="#e8b98c" stroke-width="3" stroke-linejoin="miter" opacity="0.9"/>
<path d="M341,54.6 L282.5,54.6 L335,230" fill="none" stroke="#8a4f22" stroke-width="1.5"/>
<path d="M42,399 L299,399 L348,359 M299,399 L340,416" fill="none" stroke="#e8b98c" stroke-width="3" opacity="0.9"/>
<path d="M42,399 L299,399 L348,359 M299,399 L340,416" fill="none" stroke="#8a4f22" stroke-width="1.4"/>
<path d="M351,356.5 L340.5,358.5 L346.5,366 Z" fill="#e8b98c" stroke="#8a4f22" stroke-width="0.8"/>
<polygon points="434,120 456,131 433,171 412,159" fill="none" stroke="#8a4f22" stroke-width="1.7"/>
<path d="M457,131 L596,85.5 L664,85.5" fill="none" stroke="#6d4a33" stroke-width="1.6" stroke-dasharray="7.5 5.5"/>
<path d="M672,85.5 L664,82 L666,85.5 L664,89 Z" fill="#6d4a33"/>
<rect x="499" y="210" width="52" height="19.5" fill="none" stroke="#587177" stroke-width="1.6"/>
<path d="M552,210 L607,169.5 L664,169.5" fill="none" stroke="#587177" stroke-width="1.6" stroke-dasharray="7.5 5.5"/>
<path d="M672,169.5 L664,166 L666,169.5 L664,173 Z" fill="#587177"/>
<polygon points="396.05,510.79 406.85,528.99 426.5,563 408.45,528.11 398.95,509.21" fill="#0a0a0a" opacity="1"/>
<circle cx="397" cy="509.5" r="1.8" fill="#0a0a0a"/>
<g>
<path d="M385,522 L414,509" stroke="#fff" stroke-width="5.5" stroke-linecap="round"/>
<path d="M382,523.5 L389.5,516 L391.5,523 Z M417,507.5 L408,507.5 L411,514.5 Z" fill="#fff" stroke="#fff" stroke-width="2.5" stroke-linejoin="round"/>
<path d="M387,521 L412,510" stroke="#3e6d8c" stroke-width="2"/>
<path d="M382,523.5 L389.5,516.5 L391.5,522.5 Z M417,507.5 L408.5,508 L411,514 Z" fill="#3e6d8c"/>
</g>
<path d="M411,585 L411,553" stroke="#5b3a22" stroke-width="1.7"/><path d="M411,547 L407.3,555.5 L414.7,555.5 Z" fill="#5b3a22"/>
<path d="M433,555.5 C437,543 450,536 458,542 C467,549 466,578 457,591 Z" fill="#cf1417"/>
<path d="M447,573 C449,560 452,548 458,542 C467,549 466,578 457,591 Z" fill="#b30f12"/>
<path d="M447,569 L466.5,530.5" stroke="#111" stroke-width="1.4"/><path d="M468.5,526.5 L462.2,532 L468,535 Z" fill="#111"/>
<g stroke="#111" stroke-width="1.5" fill="#111"><path d="M48,559 L48,527 M48,559 L31,541 M48,559 L74,546.5" fill="none"/><path d="M48,520.5 L44.6,528.5 L51.4,528.5 Z M26.5,536.5 L29.5,544.7 L34.6,539.7 Z M80.5,543.5 L71.8,543.6 L74.8,549.8 Z" stroke="none"/></g>
<text x="7.2" y="29.2" font-size="18" fill="#111" font-weight="bold" stroke="#111" stroke-width="0.5">a</text>
<text x="158" y="10.3" font-size="13" textLength="34.5" lengthAdjust="spacingAndGlyphs" >Link 7</text>
<text x="270" y="48" font-size="13" textLength="81" lengthAdjust="spacingAndGlyphs" >Power splitter</text>
<text x="507" y="47.5" font-size="13" textLength="35" lengthAdjust="spacingAndGlyphs" >Link 4</text>
<text x="604" y="207" font-size="13" textLength="36" lengthAdjust="spacingAndGlyphs" >Link 3</text>
<text x="604" y="302" font-size="13" textLength="36" lengthAdjust="spacingAndGlyphs" >Link 2</text>
<text x="546" y="509" font-size="13" textLength="35" lengthAdjust="spacingAndGlyphs" >Link 1</text>
<text x="202" y="585" font-size="13" textLength="43" lengthAdjust="spacingAndGlyphs" >Link 14</text>
<text x="0" y="347.5" font-size="13" textLength="34" lengthAdjust="spacingAndGlyphs" >Link 9</text>
<text x="49.5" y="393.5" font-size="13" textLength="68.5" lengthAdjust="spacingAndGlyphs" >Topological</text>
<text x="50" y="414" font-size="13" textLength="65" lengthAdjust="spacingAndGlyphs" >waveguide</text>
<text x="388" y="602" font-size="13" textLength="46" lengthAdjust="spacingAndGlyphs" >Coupler</text>
<text x="341.4" y="628.5" font-size="13" textLength="55.5" lengthAdjust="spacingAndGlyphs" transform="rotate(-90 341.4 628.5)" >Tweezers</text>
<text x="28.5" y="94.5" font-size="13.4" transform="rotate(35.4 28.5 94.5)">Optical pump <tspan font-style="italic">λ</tspan><tspan font-size="9.5" dy="4">pump</tspan></text>
<text x="413" y="527.5" font-size="13.5" fill="#4a6b82"><tspan font-style="italic" fill="#4a6b82">E</tspan><tspan font-size="9" dy="4" fill="#4a6b82">THz</tspan></text>
<text x="473" y="549" font-size="13"><tspan font-style="italic">f</tspan><tspan font-size="9" dy="3.5">c</tspan><tspan dy="-3.5"> (</tspan><tspan font-style="italic">λ</tspan><tspan font-size="9" dy="3.5">c</tspan><tspan dy="-3.5">)</tspan></text>
<text x="44.5" y="514" font-size="13" font-style="italic" >z</text>
<text x="16" y="535" font-size="13" font-style="italic" >y</text>
<text x="83.5" y="547" font-size="13" font-style="italic" >x</text>
<text x="627.5" y="23.6" font-size="18" fill="#111" font-weight="bold" stroke="#111" stroke-width="0.5">b</text>
<text x="676.5" y="28.5" font-size="13" textLength="194" lengthAdjust="spacingAndGlyphs" >BA-type topological beamformer</text>
<text x="676.5" y="158" font-size="13" textLength="194" lengthAdjust="spacingAndGlyphs" >AB-type topological beamformer</text>
<clipPath id="cBA"><rect x="673" y="35" width="202" height="100"/></clipPath>
<g clip-path="url(#cBA)">
<rect x="673" y="35" width="116" height="100" fill="#ecf1f6"/>
<rect x="789" y="35" width="87" height="100" fill="#101010"/>
<polygon points="662.13,37.23 672.43,37.23 667.28,46.15" fill="#8f6b5e"/>
<polygon points="671.69,45.55 676.99,45.55 674.34,40.96" fill="#3b4450"/>
<polygon points="676.25,37.23 686.55,37.23 681.4,46.15" fill="#b07a69"/>
<polygon points="685.81,45.55 691.11,45.55 688.46,40.96" fill="#2a2c30"/>
<polygon points="690.37,37.23 700.67,37.23 695.52,46.15" fill="#3b4450"/>
<polygon points="699.93,45.55 705.23,45.55 702.58,40.96" fill="#47698e"/>
<polygon points="704.49,37.23 714.79,37.23 709.64,46.15" fill="#3b4450"/>
<polygon points="714.05,45.55 719.35,45.55 716.7,40.96" fill="#1f2023"/>
<polygon points="718.61,37.23 728.91,37.23 723.76,46.15" fill="#80604f"/>
<polygon points="728.17,45.55 733.47,45.55 730.82,40.96" fill="#2a2c30"/>
<polygon points="732.73,37.23 743.03,37.23 737.88,46.15" fill="#33455a"/>
<polygon points="742.29,45.55 747.59,45.55 744.94,40.96" fill="#3b4450"/>
<polygon points="746.85,37.23 757.15,37.23 752,46.15" fill="#2a2c30"/>
<polygon points="756.41,45.55 761.71,45.55 759.06,40.96" fill="#2a2c30"/>
<polygon points="760.97,37.23 771.27,37.23 766.12,46.15" fill="#b07a69"/>
<polygon points="770.53,45.55 775.83,45.55 773.18,40.96" fill="#4d6178"/>
<polygon points="775.09,37.23 785.39,37.23 780.24,46.15" fill="#3b4450"/>
<polygon points="784.65,45.55 789.95,45.55 787.3,40.96" fill="#3b4450"/>
<polygon points="669.23,49.63 679.53,49.63 674.38,58.55" fill="#3b4450"/>
<polygon points="678.79,57.95 684.09,57.95 681.44,53.36" fill="#47698e"/>
<polygon points="683.35,49.63 693.65,49.63 688.5,58.55" fill="#b07a69"/>
<polygon points="692.91,57.95 698.21,57.95 695.56,53.36" fill="#2a2c30"/>
<polygon points="697.47,49.63 707.77,49.63 702.62,58.55" fill="#80604f"/>
<polygon points="707.03,57.95 712.33,57.95 709.68,53.36" fill="#2a2c30"/>
<polygon points="711.59,49.63 721.89,49.63 716.74,58.55" fill="#4d6178"/>
<polygon points="721.15,57.95 726.45,57.95 723.8,53.36" fill="#47698e"/>
<polygon points="725.71,49.63 736.01,49.63 730.86,58.55" fill="#2a2c30"/>
<polygon points="735.27,57.95 740.57,57.95 737.92,53.36" fill="#47698e"/>
<polygon points="739.83,49.63 750.13,49.63 744.98,58.55" fill="#80604f"/>
<polygon points="749.39,57.95 754.69,57.95 752.04,53.36" fill="#4d6178"/>
<polygon points="753.95,49.63 764.25,49.63 759.1,58.55" fill="#2a2c30"/>
<polygon points="763.51,57.95 768.81,57.95 766.16,53.36" fill="#3b4450"/>
<polygon points="768.07,49.63 778.37,49.63 773.22,58.55" fill="#2a2c30"/>
<polygon points="777.63,57.95 782.93,57.95 780.28,53.36" fill="#47698e"/>
<polygon points="669.23,71.17 679.53,71.17 674.38,62.25" fill="#1f2023"/>
<polygon points="678.79,62.85 684.09,62.85 681.44,67.44" fill="#1f2023"/>
<polygon points="683.35,71.17 693.65,71.17 688.5,62.25" fill="#b07a69"/>
<polygon points="692.91,62.85 698.21,62.85 695.56,67.44" fill="#3b4450"/>
<polygon points="697.47,71.17 707.77,71.17 702.62,62.25" fill="#33455a"/>
<polygon points="707.03,62.85 712.33,62.85 709.68,67.44" fill="#2a2c30"/>
<polygon points="711.59,71.17 721.89,71.17 716.74,62.25" fill="#80604f"/>
<polygon points="721.15,62.85 726.45,62.85 723.8,67.44" fill="#1f2023"/>
<polygon points="725.71,71.17 736.01,71.17 730.86,62.25" fill="#33455a"/>
<polygon points="735.27,62.85 740.57,62.85 737.92,67.44" fill="#3b4450"/>
<polygon points="739.83,71.17 750.13,71.17 744.98,62.25" fill="#3b4450"/>
<polygon points="749.39,62.85 754.69,62.85 752.04,67.44" fill="#47698e"/>
<polygon points="753.95,71.17 764.25,71.17 759.1,62.25" fill="#80604f"/>
<polygon points="763.51,62.85 768.81,62.85 766.16,67.44" fill="#3b4450"/>
<polygon points="768.07,71.17 778.37,71.17 773.22,62.25" fill="#8f6b5e"/>
<polygon points="777.63,62.85 782.93,62.85 780.28,67.44" fill="#2a2c30"/>
<polygon points="662.13,83.37 672.43,83.37 667.28,74.45" fill="#33455a"/>
<polygon points="671.69,75.05 676.99,75.05 674.34,79.64" fill="#2a2c30"/>
<polygon points="676.25,83.37 686.55,83.37 681.4,74.45" fill="#80604f"/>
<polygon points="685.81,75.05 691.11,75.05 688.46,79.64" fill="#2a2c30"/>
<polygon points="690.37,83.37 700.67,83.37 695.52,74.45" fill="#80604f"/>
<polygon points="699.93,75.05 705.23,75.05 702.58,79.64" fill="#3b4450"/>
<polygon points="704.49,83.37 714.79,83.37 709.64,74.45" fill="#5f6c7a"/>
<polygon points="714.05,75.05 719.35,75.05 716.7,79.64" fill="#47698e"/>
<polygon points="718.61,83.37 728.91,83.37 723.76,74.45" fill="#b07a69"/>
<polygon points="728.17,75.05 733.47,75.05 730.82,79.64" fill="#1f2023"/>
<polygon points="732.73,83.37 743.03,83.37 737.88,74.45" fill="#5f6c7a"/>
<polygon points="742.29,75.05 747.59,75.05 744.94,79.64" fill="#47698e"/>
<polygon points="746.85,83.37 757.15,83.37 752,74.45" fill="#5f6c7a"/>
<polygon points="756.41,75.05 761.71,75.05 759.06,79.64" fill="#1f2023"/>
<polygon points="760.97,83.37 771.27,83.37 766.12,74.45" fill="#47698e"/>
<polygon points="770.53,75.05 775.83,75.05 773.18,79.64" fill="#3b4450"/>
<polygon points="775.09,83.37 785.39,83.37 780.24,74.45" fill="#1f2023"/>
<polygon points="784.65,75.05 789.95,75.05 787.3,79.64" fill="#3b4450"/>
<polygon points="662.13,87.63 672.43,87.63 667.28,96.55" fill="#3b4450"/>
<polygon points="671.69,95.95 676.99,95.95 674.34,91.36" fill="#47698e"/>
<polygon points="676.25,87.63 686.55,87.63 681.4,96.55" fill="#47698e"/>
<polygon points="685.81,95.95 691.11,95.95 688.46,91.36" fill="#47698e"/>
<polygon points="690.37,87.63 700.67,87.63 695.52,96.55" fill="#5f6c7a"/>
<polygon points="699.93,95.95 705.23,95.95 702.58,91.36" fill="#1f2023"/>
<polygon points="704.49,87.63 714.79,87.63 709.64,96.55" fill="#a9806f"/>
<polygon points="714.05,95.95 719.35,95.95 716.7,91.36" fill="#4d6178"/>
<polygon points="718.61,87.63 728.91,87.63 723.76,96.55" fill="#47698e"/>
<polygon points="728.17,95.95 733.47,95.95 730.82,91.36" fill="#47698e"/>
<polygon points="732.73,87.63 743.03,87.63 737.88,96.55" fill="#3b4450"/>
<polygon points="742.29,95.95 747.59,95.95 744.94,91.36" fill="#2a2c30"/>
<polygon points="746.85,87.63 757.15,87.63 752,96.55" fill="#33455a"/>
<polygon points="756.41,95.95 761.71,95.95 759.06,91.36" fill="#4d6178"/>
<polygon points="760.97,87.63 771.27,87.63 766.12,96.55" fill="#1f2023"/>
<polygon points="770.53,95.95 775.83,95.95 773.18,91.36" fill="#1f2023"/>
<polygon points="775.09,87.63 785.39,87.63 780.24,96.55" fill="#1f2023"/>
<polygon points="784.65,95.95 789.95,95.95 787.3,91.36" fill="#4d6178"/>
<polygon points="669.23,100.03 679.53,100.03 674.38,108.95" fill="#b07a69"/>
<polygon points="678.79,108.35 684.09,108.35 681.44,103.76" fill="#2a2c30"/>
<polygon points="683.35,100.03 693.65,100.03 688.5,108.95" fill="#6f8cab"/>
<polygon points="692.91,108.35 698.21,108.35 695.56,103.76" fill="#2a2c30"/>
<polygon points="697.47,100.03 707.77,100.03 702.62,108.95" fill="#33455a"/>
<polygon points="707.03,108.35 712.33,108.35 709.68,103.76" fill="#47698e"/>
<polygon points="711.59,100.03 721.89,100.03 716.74,108.95" fill="#8f6b5e"/>
<polygon points="721.15,108.35 726.45,108.35 723.8,103.76" fill="#1f2023"/>
<polygon points="725.71,100.03 736.01,100.03 730.86,108.95" fill="#a9806f"/>
<polygon points="735.27,108.35 740.57,108.35 737.92,103.76" fill="#1f2023"/>
<polygon points="739.83,100.03 750.13,100.03 744.98,108.95" fill="#80604f"/>
<polygon points="749.39,108.35 754.69,108.35 752.04,103.76" fill="#4d6178"/>
<polygon points="753.95,100.03 764.25,100.03 759.1,108.95" fill="#80604f"/>
<polygon points="763.51,108.35 768.81,108.35 766.16,103.76" fill="#4d6178"/>
<polygon points="768.07,100.03 778.37,100.03 773.22,108.95" fill="#3b4450"/>
<polygon points="777.63,108.35 782.93,108.35 780.28,103.76" fill="#2a2c30"/>
<polygon points="669.23,121.17 679.53,121.17 674.38,112.25" fill="#47698e"/>
<polygon points="678.79,112.85 684.09,112.85 681.44,117.44" fill="#4d6178"/>
<polygon points="683.35,121.17 693.65,121.17 688.5,112.25" fill="#a9806f"/>
<polygon points="692.91,112.85 698.21,112.85 695.56,117.44" fill="#2a2c30"/>
<polygon points="697.47,121.17 707.77,121.17 702.62,112.25" fill="#2a2c30"/>
<polygon points="707.03,112.85 712.33,112.85 709.68,117.44" fill="#1f2023"/>
<polygon points="711.59,121.17 721.89,121.17 716.74,112.25" fill="#6f8cab"/>
<polygon points="721.15,112.85 726.45,112.85 723.8,117.44" fill="#47698e"/>
<polygon points="725.71,121.17 736.01,121.17 730.86,112.25" fill="#6f8cab"/>
<polygon points="735.27,112.85 740.57,112.85 737.92,117.44" fill="#4d6178"/>
<polygon points="739.83,121.17 750.13,121.17 744.98,112.25" fill="#47698e"/>
<polygon points="749.39,112.85 754.69,112.85 752.04,117.44" fill="#4d6178"/>
<polygon points="753.95,121.17 764.25,121.17 759.1,112.25" fill="#6f8cab"/>
<polygon points="763.51,112.85 768.81,112.85 766.16,117.44" fill="#1f2023"/>
<polygon points="768.07,121.17 778.37,121.17 773.22,112.25" fill="#2a2c30"/>
<polygon points="777.63,112.85 782.93,112.85 780.28,117.44" fill="#4d6178"/>
<polygon points="662.13,133.57 672.43,133.57 667.28,124.65" fill="#8f6b5e"/>
<polygon points="671.69,125.25 676.99,125.25 674.34,129.84" fill="#3b4450"/>
<polygon points="676.25,133.57 686.55,133.57 681.4,124.65" fill="#80604f"/>
<polygon points="685.81,125.25 691.11,125.25 688.46,129.84" fill="#2a2c30"/>
<polygon points="690.37,133.57 700.67,133.57 695.52,124.65" fill="#5f6c7a"/>
<polygon points="699.93,125.25 705.23,125.25 702.58,129.84" fill="#2a2c30"/>
<polygon points="704.49,133.57 714.79,133.57 709.64,124.65" fill="#4d6178"/>
<polygon points="714.05,125.25 719.35,125.25 716.7,129.84" fill="#1f2023"/>
<polygon points="718.61,133.57 728.91,133.57 723.76,124.65" fill="#1f2023"/>
<polygon points="728.17,125.25 733.47,125.25 730.82,129.84" fill="#3b4450"/>
<polygon points="732.73,133.57 743.03,133.57 737.88,124.65" fill="#b07a69"/>
<polygon points="742.29,125.25 747.59,125.25 744.94,129.84" fill="#4d6178"/>
<polygon points="746.85,133.57 757.15,133.57 752,124.65" fill="#5f6c7a"/>
<polygon points="756.41,125.25 761.71,125.25 759.06,129.84" fill="#2a2c30"/>
<polygon points="760.97,133.57 771.27,133.57 766.12,124.65" fill="#1f2023"/>
<polygon points="770.53,125.25 775.83,125.25 773.18,129.84" fill="#4d6178"/>
<polygon points="775.09,133.57 785.39,133.57 780.24,124.65" fill="#b07a69"/>
<polygon points="784.65,125.25 789.95,125.25 787.3,129.84" fill="#47698e"/>
<rect x="790" y="35" width="87" height="100" fill="#101010"/>
<ellipse cx="816.84" cy="51.6" rx="5" ry="7" fill="#2e363b" opacity="0.6" filter="url(#b2)"/>
<ellipse cx="828.29" cy="89.62" rx="5" ry="7" fill="#2e363b" opacity="0.6" filter="url(#b2)"/>
<ellipse cx="848.98" cy="129.75" rx="5" ry="7" fill="#2e363b" opacity="0.6" filter="url(#b2)"/>
<ellipse cx="847.2" cy="74" rx="5" ry="7" fill="#2e363b" opacity="0.6" filter="url(#b2)"/>
<ellipse cx="813.31" cy="46.63" rx="5" ry="7" fill="#2e363b" opacity="0.6" filter="url(#b2)"/>
<ellipse cx="807.35" cy="99.58" rx="5" ry="7" fill="#2e363b" opacity="0.6" filter="url(#b2)"/>
<ellipse cx="796.9" cy="115.46" rx="5" ry="7" fill="#2e363b" opacity="0.6" filter="url(#b2)"/>
<ellipse cx="809.68" cy="64.94" rx="5" ry="7" fill="#2e363b" opacity="0.6" filter="url(#b2)"/>
<ellipse cx="806.93" cy="88.18" rx="5" ry="7" fill="#2e363b" opacity="0.6" filter="url(#b2)"/>
<ellipse cx="841.74" cy="68.31" rx="5" ry="7" fill="#2e363b" opacity="0.6" filter="url(#b2)"/>
<ellipse cx="805.41" cy="118.05" rx="5" ry="7" fill="#2e363b" opacity="0.6" filter="url(#b2)"/>
<ellipse cx="867.27" cy="99.26" rx="5" ry="7" fill="#2e363b" opacity="0.6" filter="url(#b2)"/>
<rect x="786" y="56.3" width="86" height="10.4" rx="2" fill="#eef2f5"/>
<rect x="786" y="105.5" width="86" height="10.4" rx="2" fill="#eef2f5"/>
<ellipse cx="693" cy="61.2" rx="5" ry="6" fill="#6fb1e4" opacity="0.8" filter="url(#b2)"/>
<ellipse cx="724" cy="61.2" rx="3.6" ry="5.5" fill="#c3251f" opacity="0.95" filter="url(#b2)"/>
<ellipse cx="738" cy="61.2" rx="3.6" ry="5.5" fill="#2f78c0" opacity="0.8" filter="url(#b2)"/>
<ellipse cx="752" cy="61.2" rx="3" ry="5" fill="#ef8a72" opacity="0.5" filter="url(#b2)"/>
<ellipse cx="766.5" cy="61.2" rx="4" ry="6" fill="#a0120f" opacity="1" filter="url(#b2)"/>
<ellipse cx="781" cy="61.2" rx="4" ry="7" fill="#6fb1e4" opacity="0.7" filter="url(#b2)"/>
<ellipse cx="787.5" cy="61.2" rx="3.2" ry="3.6" fill="#c3251f" opacity="0.95" filter="url(#b2)"/>
<ellipse cx="800" cy="61.2" rx="3.4" ry="3.6" fill="#2f78c0" opacity="0.95" filter="url(#b2)"/>
<ellipse cx="813" cy="61.2" rx="3.2" ry="3.6" fill="#c3251f" opacity="0.9" filter="url(#b2)"/>
<ellipse cx="826.5" cy="61.2" rx="3.6" ry="3.6" fill="#2f78c0" opacity="0.95" filter="url(#b2)"/>
<ellipse cx="842" cy="61.2" rx="4.4" ry="3.6" fill="#a0120f" opacity="0.95" filter="url(#b2)"/>
<ellipse cx="859.5" cy="61.2" rx="5" ry="3.4" fill="#6fb1e4" opacity="0.9" filter="url(#b2)"/>
<ellipse cx="708" cy="48.2" rx="3.5" ry="4" fill="#ef8a72" opacity="0.45" filter="url(#b2)"/>
<ellipse cx="708" cy="74.2" rx="3.5" ry="4" fill="#ef8a72" opacity="0.45" filter="url(#b2)"/>
<ellipse cx="737" cy="48.2" rx="3.5" ry="4" fill="#ef8a72" opacity="0.45" filter="url(#b2)"/>
<ellipse cx="737" cy="74.2" rx="3.5" ry="4" fill="#ef8a72" opacity="0.45" filter="url(#b2)"/>
<ellipse cx="752" cy="48.2" rx="3.5" ry="4" fill="#ef8a72" opacity="0.45" filter="url(#b2)"/>
<ellipse cx="752" cy="74.2" rx="3.5" ry="4" fill="#ef8a72" opacity="0.45" filter="url(#b2)"/>
<ellipse cx="723" cy="48.2" rx="3.5" ry="4" fill="#6fb1e4" opacity="0.4" filter="url(#b2)"/>
<ellipse cx="723" cy="74.2" rx="3.5" ry="4" fill="#6fb1e4" opacity="0.4" filter="url(#b2)"/>
<ellipse cx="766" cy="48.2" rx="3.5" ry="4" fill="#6fb1e4" opacity="0.4" filter="url(#b2)"/>
<ellipse cx="766" cy="74.2" rx="3.5" ry="4" fill="#6fb1e4" opacity="0.4" filter="url(#b2)"/>
<ellipse cx="780" cy="48.2" rx="3.5" ry="4" fill="#6fb1e4" opacity="0.4" filter="url(#b2)"/>
<ellipse cx="780" cy="74.2" rx="3.5" ry="4" fill="#6fb1e4" opacity="0.4" filter="url(#b2)"/>
<ellipse cx="693" cy="110.2" rx="5" ry="6" fill="#6fb1e4" opacity="0.8" filter="url(#b2)"/>
<ellipse cx="724" cy="110.2" rx="3.6" ry="5.5" fill="#c3251f" opacity="0.95" filter="url(#b2)"/>
<ellipse cx="738" cy="110.2" rx="3.6" ry="5.5" fill="#2f78c0" opacity="0.8" filter="url(#b2)"/>
<ellipse cx="752" cy="110.2" rx="3" ry="5" fill="#ef8a72" opacity="0.5" filter="url(#b2)"/>
<ellipse cx="766.5" cy="110.2" rx="4" ry="6" fill="#a0120f" opacity="1" filter="url(#b2)"/>
<ellipse cx="781" cy="110.2" rx="4" ry="7" fill="#6fb1e4" opacity="0.7" filter="url(#b2)"/>
<ellipse cx="787.5" cy="110.2" rx="3.2" ry="3.6" fill="#c3251f" opacity="0.95" filter="url(#b2)"/>
<ellipse cx="800" cy="110.2" rx="3.4" ry="3.6" fill="#2f78c0" opacity="0.95" filter="url(#b2)"/>
<ellipse cx="813" cy="110.2" rx="3.2" ry="3.6" fill="#c3251f" opacity="0.9" filter="url(#b2)"/>
<ellipse cx="826.5" cy="110.2" rx="3.6" ry="3.6" fill="#2f78c0" opacity="0.95" filter="url(#b2)"/>
<ellipse cx="842" cy="110.2" rx="4.4" ry="3.6" fill="#a0120f" opacity="0.95" filter="url(#b2)"/>
<ellipse cx="859.5" cy="110.2" rx="5" ry="3.4" fill="#6fb1e4" opacity="0.9" filter="url(#b2)"/>
<ellipse cx="708" cy="97.2" rx="3.5" ry="4" fill="#ef8a72" opacity="0.45" filter="url(#b2)"/>
<ellipse cx="708" cy="123.2" rx="3.5" ry="4" fill="#ef8a72" opacity="0.45" filter="url(#b2)"/>
<ellipse cx="737" cy="97.2" rx="3.5" ry="4" fill="#ef8a72" opacity="0.45" filter="url(#b2)"/>
<ellipse cx="737" cy="123.2" rx="3.5" ry="4" fill="#ef8a72" opacity="0.45" filter="url(#b2)"/>
<ellipse cx="752" cy="97.2" rx="3.5" ry="4" fill="#ef8a72" opacity="0.45" filter="url(#b2)"/>
<ellipse cx="752" cy="123.2" rx="3.5" ry="4" fill="#ef8a72" opacity="0.45" filter="url(#b2)"/>
<ellipse cx="723" cy="97.2" rx="3.5" ry="4" fill="#6fb1e4" opacity="0.4" filter="url(#b2)"/>
<ellipse cx="723" cy="123.2" rx="3.5" ry="4" fill="#6fb1e4" opacity="0.4" filter="url(#b2)"/>
<ellipse cx="766" cy="97.2" rx="3.5" ry="4" fill="#6fb1e4" opacity="0.4" filter="url(#b2)"/>
<ellipse cx="766" cy="123.2" rx="3.5" ry="4" fill="#6fb1e4" opacity="0.4" filter="url(#b2)"/>
<ellipse cx="780" cy="97.2" rx="3.5" ry="4" fill="#6fb1e4" opacity="0.4" filter="url(#b2)"/>
<ellipse cx="780" cy="123.2" rx="3.5" ry="4" fill="#6fb1e4" opacity="0.4" filter="url(#b2)"/>
</g>
<rect x="673" y="35" width="202" height="100" fill="none" stroke="#7b4e2c" stroke-width="2"/>
<path d="M675,85.6 L787,85.6" stroke="#f4f6f8" stroke-width="1.6"/>
<rect x="697.5" y="129.2" width="30" height="3" fill="#0a0a0a"/>
<path d="M805.3,69 L805.3,103" stroke="#e2b735" stroke-width="1.5"/><path d="M805.3,66 L802,71.8 L808.6,71.8 Z M805.3,106 L802,100.2 L808.6,100.2 Z" fill="#e2b735"/>
<text x="812" y="91.5" font-size="13" fill="#fff" style="fill:#fff">0.91<tspan font-style="italic">λ</tspan><tspan font-size="9" dy="3.5">c</tspan></text>
<polygon points="664,62.4 676,62.4 676,64.8 688,60.8 676,56.8 676,59.2 664,59.2" fill="#fff" stroke="#fff" stroke-width="2.2" stroke-linejoin="round"/><polygon points="664,62.4 676,62.4 676,64.8 688,60.8 676,56.8 676,59.2 664,59.2" fill="#c4161c"/>
<polygon points="664,111.2 676,111.2 676,113.6 688,109.6 676,105.6 676,108 664,108" fill="#fff" stroke="#fff" stroke-width="2.2" stroke-linejoin="round"/><polygon points="664,111.2 676,111.2 676,113.6 688,109.6 676,105.6 676,108 664,108" fill="#c4161c"/>
<clipPath id="cAB"><rect x="673" y="163" width="203" height="77"/></clipPath>
<g clip-path="url(#cAB)">
<rect x="673" y="163" width="116" height="77" fill="#ecf1f6"/>
<rect x="789" y="163" width="88" height="77" fill="#101010"/>
<polygon points="670.23,176.17 680.53,176.17 675.38,167.25" fill="#a9806f"/>
<polygon points="679.79,167.85 685.09,167.85 682.44,172.44" fill="#2a2c30"/>
<polygon points="684.35,176.17 694.65,176.17 689.5,167.25" fill="#5f6c7a"/>
<polygon points="693.91,167.85 699.21,167.85 696.56,172.44" fill="#47698e"/>
<polygon points="698.47,176.17 708.77,176.17 703.62,167.25" fill="#b07a69"/>
<polygon points="708.03,167.85 713.33,167.85 710.68,172.44" fill="#4d6178"/>
<polygon points="712.59,176.17 722.89,176.17 717.74,167.25" fill="#b07a69"/>
<polygon points="722.15,167.85 727.45,167.85 724.8,172.44" fill="#4d6178"/>
<polygon points="726.71,176.17 737.01,176.17 731.86,167.25" fill="#3b4450"/>
<polygon points="736.27,167.85 741.57,167.85 738.92,172.44" fill="#4d6178"/>
<polygon points="740.83,176.17 751.13,176.17 745.98,167.25" fill="#6f8cab"/>
<polygon points="750.39,167.85 755.69,167.85 753.04,172.44" fill="#4d6178"/>
<polygon points="754.95,176.17 765.25,176.17 760.1,167.25" fill="#2a2c30"/>
<polygon points="764.51,167.85 769.81,167.85 767.16,172.44" fill="#3b4450"/>
<polygon points="769.07,176.17 779.37,176.17 774.22,167.25" fill="#3b4450"/>
<polygon points="778.63,167.85 783.93,167.85 781.28,172.44" fill="#3b4450"/>
<polygon points="677.68,187.37 687.28,187.37 682.48,179.06" fill="#5f6c7a"/>
<polygon points="687.04,179.66 692.04,179.66 689.54,183.99" fill="#3b4450"/>
<polygon points="691.8,187.37 701.4,187.37 696.6,179.06" fill="#3b4450"/>
<polygon points="701.16,179.66 706.16,179.66 703.66,183.99" fill="#1f2023"/>
<polygon points="705.92,187.37 715.52,187.37 710.72,179.06" fill="#80604f"/>
<polygon points="715.28,179.66 720.28,179.66 717.78,183.99" fill="#2a2c30"/>
<polygon points="720.04,187.37 729.64,187.37 724.84,179.06" fill="#3b4450"/>
<polygon points="677.33,190.63 687.63,190.63 682.48,199.55" fill="#80604f"/>
<polygon points="686.89,198.95 692.19,198.95 689.54,194.36" fill="#3b4450"/>
<polygon points="691.45,190.63 701.75,190.63 696.6,199.55" fill="#33455a"/>
<polygon points="701.01,198.95 706.31,198.95 703.66,194.36" fill="#2a2c30"/>
<polygon points="705.57,190.63 715.87,190.63 710.72,199.55" fill="#8f6b5e"/>
<polygon points="715.13,198.95 720.43,198.95 717.78,194.36" fill="#47698e"/>
<polygon points="719.69,190.63 729.99,190.63 724.84,199.55" fill="#2a2c30"/>
<polygon points="729.25,198.95 734.55,198.95 731.9,194.36" fill="#2a2c30"/>
<polygon points="733.81,190.63 744.11,190.63 738.96,199.55" fill="#4d6178"/>
<polygon points="743.37,198.95 748.67,198.95 746.02,194.36" fill="#47698e"/>
<polygon points="747.93,190.63 758.23,190.63 753.08,199.55" fill="#b07a69"/>
<polygon points="757.49,198.95 762.79,198.95 760.14,194.36" fill="#3b4450"/>
<polygon points="762.05,190.63 772.35,190.63 767.2,199.55" fill="#6f8cab"/>
<polygon points="771.61,198.95 776.91,198.95 774.26,194.36" fill="#1f2023"/>
<polygon points="776.17,190.63 786.47,190.63 781.32,199.55" fill="#8f6b5e"/>
<polygon points="785.73,198.95 791.03,198.95 788.38,194.36" fill="#47698e"/>
<polygon points="677.33,211.97 687.63,211.97 682.48,203.05" fill="#8f6b5e"/>
<polygon points="686.89,203.65 692.19,203.65 689.54,208.24" fill="#4d6178"/>
<polygon points="691.45,211.97 701.75,211.97 696.6,203.05" fill="#3b4450"/>
<polygon points="701.01,203.65 706.31,203.65 703.66,208.24" fill="#2a2c30"/>
<polygon points="705.57,211.97 715.87,211.97 710.72,203.05" fill="#5f6c7a"/>
<polygon points="715.13,203.65 720.43,203.65 717.78,208.24" fill="#4d6178"/>
<polygon points="719.69,211.97 729.99,211.97 724.84,203.05" fill="#5f6c7a"/>
<polygon points="729.25,203.65 734.55,203.65 731.9,208.24" fill="#4d6178"/>
<polygon points="733.81,211.97 744.11,211.97 738.96,203.05" fill="#47698e"/>
<polygon points="743.37,203.65 748.67,203.65 746.02,208.24" fill="#2a2c30"/>
<polygon points="747.93,211.97 758.23,211.97 753.08,203.05" fill="#1f2023"/>
<polygon points="757.49,203.65 762.79,203.65 760.14,208.24" fill="#2a2c30"/>
<polygon points="762.05,211.97 772.35,211.97 767.2,203.05" fill="#a9806f"/>
<polygon points="771.61,203.65 776.91,203.65 774.26,208.24" fill="#1f2023"/>
<polygon points="776.17,211.97 786.47,211.97 781.32,203.05" fill="#a9806f"/>
<polygon points="785.73,203.65 791.03,203.65 788.38,208.24" fill="#1f2023"/>
<polygon points="677.68,215.43 687.28,215.43 682.48,223.74" fill="#5f6c7a"/>
<polygon points="687.04,223.14 692.04,223.14 689.54,218.81" fill="#3b4450"/>
<polygon points="691.8,215.43 701.4,215.43 696.6,223.74" fill="#33455a"/>
<polygon points="701.16,223.14 706.16,223.14 703.66,218.81" fill="#2a2c30"/>
<polygon points="705.92,215.43 715.52,215.43 710.72,223.74" fill="#4d6178"/>
<polygon points="715.28,223.14 720.28,223.14 717.78,218.81" fill="#47698e"/>
<polygon points="720.04,215.43 729.64,215.43 724.84,223.74" fill="#8f6b5e"/>
<polygon points="670.23,226.83 680.53,226.83 675.38,235.75" fill="#a9806f"/>
<polygon points="679.79,235.15 685.09,235.15 682.44,230.56" fill="#47698e"/>
<polygon points="684.35,226.83 694.65,226.83 689.5,235.75" fill="#2a2c30"/>
<polygon points="693.91,235.15 699.21,235.15 696.56,230.56" fill="#47698e"/>
<polygon points="698.47,226.83 708.77,226.83 703.62,235.75" fill="#47698e"/>
<polygon points="708.03,235.15 713.33,235.15 710.68,230.56" fill="#2a2c30"/>
<polygon points="712.59,226.83 722.89,226.83 717.74,235.75" fill="#a9806f"/>
<polygon points="722.15,235.15 727.45,235.15 724.8,230.56" fill="#1f2023"/>
<polygon points="726.71,226.83 737.01,226.83 731.86,235.75" fill="#33455a"/>
<polygon points="736.27,235.15 741.57,235.15 738.92,230.56" fill="#1f2023"/>
<polygon points="740.83,226.83 751.13,226.83 745.98,235.75" fill="#1f2023"/>
<polygon points="750.39,235.15 755.69,235.15 753.04,230.56" fill="#1f2023"/>
<polygon points="754.95,226.83 765.25,226.83 760.1,235.75" fill="#4d6178"/>
<polygon points="764.51,235.15 769.81,235.15 767.16,230.56" fill="#47698e"/>
<polygon points="769.07,226.83 779.37,226.83 774.22,235.75" fill="#33455a"/>
<polygon points="778.63,235.15 783.93,235.15 781.28,230.56" fill="#47698e"/>
<rect x="790" y="163" width="88" height="77" fill="#101010"/>
<ellipse cx="821.05" cy="182.39" rx="5" ry="7" fill="#2e363b" opacity="0.6" filter="url(#b2)"/>
<ellipse cx="857.67" cy="234.96" rx="5" ry="7" fill="#2e363b" opacity="0.6" filter="url(#b2)"/>
<ellipse cx="860.8" cy="222.62" rx="5" ry="7" fill="#2e363b" opacity="0.6" filter="url(#b2)"/>
<ellipse cx="858.19" cy="218.05" rx="5" ry="7" fill="#2e363b" opacity="0.6" filter="url(#b2)"/>
<ellipse cx="813.23" cy="202.72" rx="5" ry="7" fill="#2e363b" opacity="0.6" filter="url(#b2)"/>
<ellipse cx="823.02" cy="169" rx="5" ry="7" fill="#2e363b" opacity="0.6" filter="url(#b2)"/>
<ellipse cx="798.12" cy="186.28" rx="5" ry="7" fill="#2e363b" opacity="0.6" filter="url(#b2)"/>
<ellipse cx="815.7" cy="214.78" rx="5" ry="7" fill="#2e363b" opacity="0.6" filter="url(#b2)"/>
<ellipse cx="868.7" cy="197.86" rx="5" ry="7" fill="#2e363b" opacity="0.6" filter="url(#b2)"/>
<ellipse cx="867.21" cy="235.17" rx="5" ry="7" fill="#2e363b" opacity="0.6" filter="url(#b2)"/>
<ellipse cx="868.58" cy="192.16" rx="5" ry="7" fill="#2e363b" opacity="0.6" filter="url(#b2)"/>
<ellipse cx="812.76" cy="182.65" rx="5" ry="7" fill="#2e363b" opacity="0.6" filter="url(#b2)"/>
<rect x="733" y="177.8" width="140" height="9.6" rx="2" fill="#eef2f5"/>
<rect x="733" y="215.2" width="140" height="9.6" rx="2" fill="#eef2f5"/>
<ellipse cx="740" cy="181.5" rx="3.6" ry="4.5" fill="#a0120f" opacity="1" filter="url(#b2)"/>
<ellipse cx="752" cy="181" rx="3.2" ry="5" fill="#2f78c0" opacity="0.95" filter="url(#b2)"/>
<ellipse cx="763" cy="182" rx="2.6" ry="5" fill="#ef8a72" opacity="0.7" filter="url(#b2)"/>
<ellipse cx="773" cy="183" rx="2.4" ry="5" fill="#6fb1e4" opacity="0.6" filter="url(#b2)"/>
<ellipse cx="782" cy="183" rx="2.6" ry="4.5" fill="#ef8a72" opacity="0.8" filter="url(#b2)"/>
<ellipse cx="740" cy="220.5" rx="3.6" ry="4.5" fill="#2f78c0" opacity="1" filter="url(#b2)"/>
<ellipse cx="751.5" cy="221.5" rx="3.4" ry="5" fill="#a0120f" opacity="0.95" filter="url(#b2)"/>
<ellipse cx="763" cy="221" rx="2.6" ry="5" fill="#6fb1e4" opacity="0.7" filter="url(#b2)"/>
<ellipse cx="773" cy="220" rx="2.4" ry="5" fill="#ef8a72" opacity="0.6" filter="url(#b2)"/>
<ellipse cx="782" cy="220" rx="2.6" ry="4.5" fill="#6fb1e4" opacity="0.8" filter="url(#b2)"/>
<ellipse cx="717" cy="188" rx="6" ry="3.2" fill="#ef8a72" opacity="0.7" filter="url(#b2)"/>
<ellipse cx="727" cy="183.5" rx="5" ry="3" fill="#6fb1e4" opacity="0.7" filter="url(#b2)"/>
<ellipse cx="704" cy="196" rx="5" ry="3" fill="#6fb1e4" opacity="0.7" filter="url(#b2)"/>
<ellipse cx="721" cy="196.5" rx="6" ry="3.2" fill="#ef8a72" opacity="0.7" filter="url(#b2)"/>
<ellipse cx="718" cy="208" rx="6" ry="3.2" fill="#6fb1e4" opacity="0.8" filter="url(#b2)"/>
<ellipse cx="704" cy="208.5" rx="4" ry="3" fill="#ef8a72" opacity="0.55" filter="url(#b2)"/>
<ellipse cx="730" cy="214" rx="5" ry="3.2" fill="#ef8a72" opacity="0.6" filter="url(#b2)"/>
<ellipse cx="695" cy="189" rx="4" ry="3" fill="#6fb1e4" opacity="0.5" filter="url(#b2)"/>
<ellipse cx="695" cy="213" rx="4" ry="3" fill="#6fb1e4" opacity="0.5" filter="url(#b2)"/>
<ellipse cx="793.5" cy="183" rx="3.2" ry="3.2" fill="#2f78c0" opacity="0.9" filter="url(#b2)"/>
<ellipse cx="793.5" cy="220" rx="3.2" ry="3.2" fill="#c3251f" opacity="0.9" filter="url(#b2)"/>
<ellipse cx="806" cy="183" rx="3.2" ry="3.2" fill="#c3251f" opacity="0.9" filter="url(#b2)"/>
<ellipse cx="806" cy="220" rx="3.2" ry="3.2" fill="#2f78c0" opacity="0.9" filter="url(#b2)"/>
<ellipse cx="818.5" cy="183" rx="3.2" ry="3.2" fill="#2f78c0" opacity="0.9" filter="url(#b2)"/>
<ellipse cx="818.5" cy="220" rx="3.2" ry="3.2" fill="#c3251f" opacity="0.9" filter="url(#b2)"/>
<ellipse cx="831.5" cy="183" rx="3.2" ry="3.2" fill="#c3251f" opacity="0.9" filter="url(#b2)"/>
<ellipse cx="831.5" cy="220" rx="3.2" ry="3.2" fill="#2f78c0" opacity="0.9" filter="url(#b2)"/>
<ellipse cx="845.5" cy="183" rx="3.2" ry="3.2" fill="#2f78c0" opacity="0.9" filter="url(#b2)"/>
<ellipse cx="845.5" cy="220" rx="3.2" ry="3.2" fill="#c3251f" opacity="0.9" filter="url(#b2)"/>
<ellipse cx="860.5" cy="183" rx="3.2" ry="3.2" fill="#c3251f" opacity="0.9" filter="url(#b2)"/>
<ellipse cx="860.5" cy="220" rx="3.2" ry="3.2" fill="#2f78c0" opacity="0.9" filter="url(#b2)"/>
</g>
<rect x="673" y="163" width="203" height="77" fill="none" stroke="#3f555f" stroke-width="2"/>
<path d="M806,190.5 L806,212.5" stroke="#e2b735" stroke-width="1.5"/><path d="M806,187.6 L802.8,193.2 L809.2,193.2 Z M806,215.4 L802.8,209.8 L809.2,209.8 Z" fill="#e2b735"/>
<text x="812" y="206.5" font-size="13" fill="#fff" style="fill:#fff">0.68<tspan font-style="italic">λ</tspan><tspan font-size="9" dy="3.5">c</tspan></text>
<polygon points="664,190.2 675,190.2 675,192.6 687,188.6 675,184.6 675,187 664,187" fill="#fff" stroke="#fff" stroke-width="2.2" stroke-linejoin="round"/><polygon points="664,190.2 675,190.2 675,192.6 687,188.6 675,184.6 675,187 664,187" fill="#c4161c"/>
<polygon points="664,214.8 675,214.8 675,217.2 687,213.2 675,209.2 675,211.6 664,211.6" fill="#fff" stroke="#fff" stroke-width="2.2" stroke-linejoin="round"/><polygon points="664,214.8 675,214.8 675,217.2 687,213.2 675,209.2 675,211.6 664,211.6" fill="#c4161c"/>
<rect x="727.5" y="251" width="95" height="10.5" fill="url(#cb)" stroke="#111" stroke-width="1.2"/>
<text x="689" y="261.3" font-size="13" textLength="32.5" lengthAdjust="spacingAndGlyphs" >−Max</text>
<text x="829.5" y="261.3" font-size="13" textLength="24.5" lengthAdjust="spacingAndGlyphs" >Max</text>
<text x="767.5" y="275.2" font-size="13.5" font-style="italic">H<tspan font-size="9" dy="3.5">z</tspan></text>
<defs><linearGradient id="sg1" x1="0" y1="0" x2="0" y2="1"><stop offset="0" stop-color="#777"/><stop offset="0.45" stop-color="#4a4a4a"/><stop offset="1" stop-color="#1d1d1d"/></linearGradient><linearGradient id="sg2" x1="0" y1="0" x2="0" y2="1"><stop offset="0" stop-color="#d6d6d6"/><stop offset="0.3" stop-color="#bdbdbd"/><stop offset="0.34" stop-color="#3a3a3a"/><stop offset="1" stop-color="#222"/></linearGradient><linearGradient id="sg3" x1="0" y1="0" x2="0" y2="1"><stop offset="0" stop-color="#9a9a9a"/><stop offset="0.4" stop-color="#3c3c3c"/><stop offset="1" stop-color="#262626"/></linearGradient><clipPath id="cSA"><rect x="881.5" y="39.3" width="118.5" height="93"/></clipPath><clipPath id="cSB"><rect x="881.5" y="142.6" width="118.5" height="92.6"/></clipPath></defs>
<g clip-path="url(#cSA)">
<rect x="881" y="39" width="120" height="94" fill="#8d8d8d"/>
<polygon points="921.8,66.5 898.9,106.4 944.7,106.4" fill="#f1f1f1" stroke="#f1f1f1" stroke-width="2.2" stroke-linejoin="round"/>
<polygon points="923.8,72.5 906.3,105.2 943,105.2" fill="url(#sg1)"/>
<polygon points="994.7,66.5 971.8,106.4 1017.6,106.4" fill="#f1f1f1" stroke="#f1f1f1" stroke-width="2.2" stroke-linejoin="round"/>
<polygon points="996.7,72.5 979.2,105.2 1015.9,105.2" fill="url(#sg1)"/>
<polygon points="873.5,64.8 898.9,64.8 886.2,86" fill="url(#sg3)" stroke="#c9c9c9" stroke-width="1" stroke-linejoin="round"/>
<polygon points="946.4,64.8 971.8,64.8 959.1,86" fill="url(#sg3)" stroke="#c9c9c9" stroke-width="1" stroke-linejoin="round"/>
<polygon points="1019.3,64.8 1044.7,64.8 1032,86" fill="url(#sg3)" stroke="#c9c9c9" stroke-width="1" stroke-linejoin="round"/>
<path d="M909,131.5 L934,131.5 L931.5,128.2 L911.5,128.2 Z" fill="#dcdcdc"/>
<path d="M981.9,131.5 L1006.9,131.5 L1004.4,128.2 L984.4,128.2 Z" fill="#dcdcdc"/>
</g>
<text x="898" y="55.5" font-size="13" style="fill:#fff" textLength="83" lengthAdjust="spacingAndGlyphs">Type A (<tspan font-style="italic">l</tspan><tspan font-size="9" dy="3.5">1</tspan><tspan dy="-3.5"> &gt; </tspan><tspan font-style="italic">l</tspan><tspan font-size="9" dy="3.5">2</tspan><tspan dy="-3.5">)</tspan></text>
<path d="M897.85,97.81 L913.65,69.69" stroke="#e2b735" stroke-width="2.2"/><polygon points="895.5,102 901.23,98.34 895.65,95.2" fill="#e2b735"/><polygon points="916,65.5 915.85,72.3 910.27,69.16" fill="#e2b735"/>
<path d="M965.59,82.78 L971.31,72.22" stroke="#e2b735" stroke-width="2.2"/><polygon points="963.3,87 968.97,83.25 963.35,80.2" fill="#e2b735"/><polygon points="973.6,68 973.55,74.8 967.93,71.75" fill="#e2b735"/>
<path d="M904.3,112.3 L963,112.3" stroke="#e2b735" stroke-width="2.2"/><polygon points="899.5,112.3 905.5,115.5 905.5,109.1" fill="#e2b735"/><polygon points="967.8,112.3 961.8,115.5 961.8,109.1" fill="#e2b735"/>
<text x="892.5" y="85.5" font-size="13" font-style="italic" style="fill:#111">l<tspan font-size="9" dy="3.5" font-style="normal">1</tspan></text>
<text x="970" y="86" font-size="13" font-style="italic" style="fill:#111">l<tspan font-size="9" dy="3.5" font-style="normal">2</tspan></text>
<text x="929" y="122" font-size="13.5" font-style="italic" style="fill:#111">a</text>
<g clip-path="url(#cSB)">
<rect x="881" y="142" width="120" height="94" fill="#8b8b8b"/>
<polygon points="848,168.1 894.7,168.1 871.3,208" fill="url(#sg2)" stroke="#dedede" stroke-width="1.2" stroke-linejoin="round"/>
<polygon points="920.9,168.1 967.6,168.1 944.2,208" fill="url(#sg2)" stroke="#dedede" stroke-width="1.2" stroke-linejoin="round"/>
<polygon points="993.8,168.1 1040.5,168.1 1017.1,208" fill="url(#sg2)" stroke="#dedede" stroke-width="1.2" stroke-linejoin="round"/>
<polygon points="907.6,189.3 895.5,209.7 919.8,209.7" fill="url(#sg3)" stroke="#e6e6e6" stroke-width="1.3" stroke-linejoin="round"/>
<polygon points="980.5,189.3 968.4,209.7 992.7,209.7" fill="url(#sg3)" stroke="#e6e6e6" stroke-width="1.3" stroke-linejoin="round"/>
<polygon points="859.6,149 883.6,149 880.1,140 863.1,140" fill="#2b2b2b" stroke="#e0e0e0" stroke-width="1.2"/>
<polygon points="932.5,149 956.5,149 953,140 936,140" fill="#2b2b2b" stroke="#e0e0e0" stroke-width="1.2"/>
<polygon points="1005.4,149 1029.4,149 1025.9,140 1008.9,140" fill="#2b2b2b" stroke="#e0e0e0" stroke-width="1.2"/>
<rect x="883.5" y="230" width="46.5" height="3.6" fill="#d9d9d9"/><rect x="956.5" y="230" width="45" height="3.6" fill="#d9d9d9"/>
<rect x="958.3" y="225" width="30" height="2.6" fill="#fafafa"/>
</g>
<text x="898" y="161.3" font-size="13" style="fill:#fff" textLength="85.5" lengthAdjust="spacingAndGlyphs">Type B (<tspan font-style="italic">l</tspan><tspan font-size="9" dy="3.5">1</tspan><tspan dy="-3.5"> &lt;  </tspan><tspan font-style="italic">l</tspan><tspan font-size="9" dy="3.5">2</tspan><tspan dy="-3.5">)</tspan></text>
<text x="687.5" y="311.8" font-size="18" fill="#111" font-weight="bold" stroke="#111" stroke-width="0.5">c</text>
<circle cx="831.5" cy="395" r="72" fill="#fff"/>
<path d="M831.5,395 L884.16,345.9 A72,72 0 0 0 778.84,345.9 Z" fill="#cfe1e7"/>
<path d="M831.5,395 L762.65,373.95 A72,72 0 0 0 815.3,465.15 Z" fill="#cfe1e7"/>
<path d="M831.5,395 L847.7,465.15 A72,72 0 0 0 900.35,373.95 Z" fill="#cfe1e7"/>
<path d="M0,0 C17.88,-1.57 32.89,-5.25 50.05,-5.25 C62.92,-5.25 71.5,-3.15 71.5,0 C71.5,3.15 62.92,5.25 50.05,5.25 C32.89,5.25 17.88,1.57 0,0Z" fill="#0b0b0b" transform="translate(831.5,395) rotate(-80.5)"/>
<path d="M0,0 C17.88,-1.8 32.89,-6 50.05,-6 C62.92,-6 71.5,-3.6 71.5,0 C71.5,3.6 62.92,6 50.05,6 C32.89,6 17.88,1.8 0,0Z" fill="#0b0b0b" transform="translate(831.5,395) rotate(14)"/>
<path d="M0,0 C18,-1.65 33.12,-5.5 50.4,-5.5 C63.36,-5.5 72,-3.3 72,0 C72,3.3 63.36,5.5 50.4,5.5 C33.12,5.5 18,1.65 0,0Z" fill="#0b0b0b" transform="translate(831.5,395) rotate(45.3)"/>
<path d="M0,0 C17.12,-1.72 31.51,-5.75 47.95,-5.75 C60.28,-5.75 68.5,-3.45 68.5,0 C68.5,3.45 60.28,5.75 47.95,5.75 C31.51,5.75 17.12,1.72 0,0Z" fill="#0b0b0b" transform="translate(831.5,395) rotate(-167.5)"/>
<path d="M0,0 C17.75,-1.72 32.66,-5.75 49.7,-5.75 C62.48,-5.75 71,-3.45 71,0 C71,3.45 62.48,5.75 49.7,5.75 C32.66,5.75 17.75,1.72 0,0Z" fill="#0b0b0b" transform="translate(831.5,395) rotate(-185)"/>
<path d="M0,0 C17.62,-1.47 32.43,-4.9 49.35,-4.9 C62.04,-4.9 70.5,-2.94 70.5,0 C70.5,2.94 62.04,4.9 49.35,4.9 C32.43,4.9 17.62,1.47 0,0Z" fill="#0b0b0b" transform="translate(831.5,395) rotate(-207.5)"/>
<path d="M0,0 C17.62,-1.44 32.43,-4.8 49.35,-4.8 C62.04,-4.8 70.5,-2.88 70.5,0 C70.5,2.88 62.04,4.8 49.35,4.8 C32.43,4.8 17.62,1.44 0,0Z" fill="#0b0b0b" transform="translate(831.5,395) rotate(-231)"/>
<path d="M0,0 C16.5,-2.17 30.36,-7.25 46.2,-7.25 C58.08,-7.25 66,-4.35 66,0 C66,4.35 58.08,7.25 46.2,7.25 C30.36,7.25 16.5,2.17 0,0Z" fill="#0b0b0b" transform="translate(831.5,395) rotate(-255.5)"/>
<path d="M0,0 C8,-0.51 14.72,-1.7 22.4,-1.7 C28.16,-1.7 32,-1.02 32,0 C32,1.02 28.16,1.7 22.4,1.7 C14.72,1.7 8,0.51 0,0Z" fill="#0b0b0b" transform="translate(831.5,395) rotate(-14)"/>
<path d="M0,0 C6.5,-0.39 11.96,-1.3 18.2,-1.3 C22.88,-1.3 26,-0.78 26,0 C26,0.78 22.88,1.3 18.2,1.3 C11.96,1.3 6.5,0.39 0,0Z" fill="#0b0b0b" transform="translate(831.5,395) rotate(0)"/>
<path d="M0,0 C7.5,-0.54 13.8,-1.8 21,-1.8 C26.4,-1.8 30,-1.08 30,0 C30,1.08 26.4,1.8 21,1.8 C13.8,1.8 7.5,0.54 0,0Z" fill="#0b0b0b" transform="translate(831.5,395) rotate(73.6)"/>
<path d="M0,0 C7.75,-0.48 14.26,-1.6 21.7,-1.6 C27.28,-1.6 31,-0.96 31,0 C31,0.96 27.28,1.6 21.7,1.6 C14.26,1.6 7.75,0.48 0,0Z" fill="#0b0b0b" transform="translate(831.5,395) rotate(60)"/>
<path d="M0,0 C3.5,-0.33 6.44,-1.1 9.8,-1.1 C12.32,-1.1 14,-0.66 14,0 C14,0.66 12.32,1.1 9.8,1.1 C6.44,1.1 3.5,0.33 0,0Z" fill="#0b0b0b" transform="translate(831.5,395) rotate(-128)"/>
<path d="M0,0 C5.5,-0.45 10.12,-1.5 15.4,-1.5 C19.36,-1.5 22,-0.9 22,0 C22,0.9 19.36,1.5 15.4,1.5 C10.12,1.5 5.5,0.45 0,0Z" fill="#0b0b0b" transform="translate(831.5,395) rotate(88)"/>
<path d="M0,0 C6,-0.39 11.04,-1.3 16.8,-1.3 C21.12,-1.3 24,-0.78 24,0 C24,0.78 21.12,1.3 16.8,1.3 C11.04,1.3 6,0.39 0,0Z" fill="#0b0b0b" transform="translate(831.5,395) rotate(30)"/>
<path d="M0,0 C3,-0.3 5.52,-1 8.4,-1 C10.56,-1 12,-0.6 12,0 C12,0.6 10.56,1 8.4,1 C5.52,1 3,0.3 0,0Z" fill="#0b0b0b" transform="translate(831.5,395) rotate(-60)"/>
<path d="M0,0 C7.5,-0.45 13.8,-1.5 21,-1.5 C26.4,-1.5 30,-0.9 30,0 C30,0.9 26.4,1.5 21,1.5 C13.8,1.5 7.5,0.45 0,0Z" fill="#0b0b0b" transform="translate(831.5,395) rotate(-245)"/>
<path d="M0,0 C5,-0.33 9.2,-1.1 14,-1.1 C17.6,-1.1 20,-0.66 20,0 C20,0.66 17.6,1.1 14,1.1 C9.2,1.1 5,0.33 0,0Z" fill="#0b0b0b" transform="translate(831.5,395) rotate(52)"/>
<circle cx="831.5" cy="395" r="72" fill="none" stroke="#111" stroke-width="1.5"/>
<path d="M893.85,359 L896.88,357.25" stroke="#111" stroke-width="1.2"/>
<path d="M831.5,323 L831.5,319.5" stroke="#111" stroke-width="1.2"/>
<path d="M769.15,359 L766.12,357.25" stroke="#111" stroke-width="1.2"/>
<path d="M769.15,431 L766.12,432.75" stroke="#111" stroke-width="1.2"/>
<path d="M831.5,467 L831.5,470.5" stroke="#111" stroke-width="1.2"/>
<path d="M893.85,431 L896.88,432.75" stroke="#111" stroke-width="1.2"/>
<path d="M833.2,348.2 L842.2,358.6 M842.6,347.8 L832.8,359" stroke="#d3261f" stroke-width="4.4" stroke-linecap="square"/>
<path d="M845.6,378.5 A24.5,24.5 0 0 0 818.8,376" fill="none" stroke="#111" stroke-width="1.3"/><path d="M815.8,379.8 L818,372.6 L822.6,378 Z" fill="#111"/>
<path d="M735,317.8 L794,317.8 L808,341.5" fill="none" stroke="#111" stroke-width="1.4"/>
<circle cx="808.3" cy="342.2" r="2.1" fill="#111"/>
<text x="738.3" y="310.8" font-size="13" textLength="48.5" lengthAdjust="spacingAndGlyphs" >AB-type</text>
<text x="824" y="315" font-size="13" textLength="20" lengthAdjust="spacingAndGlyphs" >90°</text>
<circle cx="845.3" cy="318.6" r="2.5" fill="#111"/>
<text x="853" y="322" font-size="13" textLength="34.5" lengthAdjust="spacingAndGlyphs" >Link 7</text>
<text x="741.5" y="353.3" font-size="13" textLength="27.5" lengthAdjust="spacingAndGlyphs" >150°</text>
<text x="898" y="353.3" font-size="13" textLength="20" lengthAdjust="spacingAndGlyphs" >30°</text>
<text x="804" y="367.8" font-size="13" textLength="21" lengthAdjust="spacingAndGlyphs" >94°</text>
<text x="695" y="398" font-size="14.5" font-family='"Liberation Serif", serif' font-style="italic" >θ</text>
<circle cx="904.4" cy="414.2" r="2.5" fill="#111"/>
<text x="910.5" y="416" font-size="13" textLength="34.5" lengthAdjust="spacingAndGlyphs" >Link 3</text>
<text x="741.5" y="445.5" font-size="13" textLength="27.5" lengthAdjust="spacingAndGlyphs" >210°</text>
<text x="898" y="445.5" font-size="13" textLength="27" lengthAdjust="spacingAndGlyphs" >330°</text>
<circle cx="885.6" cy="449" r="2.5" fill="#111"/>
<text x="876" y="463.6" font-size="13" textLength="34.5" lengthAdjust="spacingAndGlyphs" >Link 2</text>
<text x="758" y="472" font-size="13" textLength="42.5" lengthAdjust="spacingAndGlyphs" >Link 14</text>
<circle cx="809.6" cy="468" r="2.5" fill="#111"/>
<g stroke="#111" stroke-width="1.5" fill="none"><path d="M686.7,460 L686.7,487.7 L713,487.7"/></g>
<path d="M686.7,453.8 L683.5,461.5 L689.9,461.5 Z M720,487.7 L712.3,484.4 L712.3,491 Z" fill="#111"/>
<path d="M0,0 C6,-1 22,-2.8 38,-2.8 C44,-2.8 47,-1.4 47,0 C47,1.4 44,2.8 38,2.8 C22,2.8 6,1 0,0Z" fill="#0b0b0b" transform="translate(686.7,487.7) rotate(-55.6)"/>
<path d="M704.8,487 A18,18 0 0 0 700.2,478.6" fill="none" stroke="#111" stroke-width="1.2"/><path d="M697.6,476 L704,477.2 L700,482 Z" fill="#111"/>
<text x="683.5" y="450" font-size="13" font-style="italic" >y</text>
<text x="722.3" y="491.5" font-size="13" font-style="italic" >x</text>
<text x="706.5" y="480.5" font-size="11.5" font-family='"Liberation Serif", serif' font-style="italic" >θ</text>
<circle cx="831" cy="553.5" r="72" fill="#fff"/>
<path d="M831,553.5 L791.79,613.88 A72,72 0 0 0 870.21,613.88 Z" fill="#f6d4c6"/>
<path d="M831,553.5 L902.9,557.27 A72,72 0 0 0 863.69,489.35 Z" fill="#f6d4c6"/>
<path d="M831,553.5 L798.31,489.35 A72,72 0 0 0 759.1,557.27 Z" fill="#f6d4c6"/>
<path d="M0,0 C18,-1.35 33.12,-4.5 50.4,-4.5 C63.36,-4.5 72,-2.7 72,0 C72,2.7 63.36,4.5 50.4,4.5 C33.12,4.5 18,1.35 0,0Z" fill="#0b0b0b" transform="translate(831,553.5) rotate(-180)"/>
<path d="M0,0 C17.88,-1.35 32.89,-4.5 50.05,-4.5 C62.92,-4.5 71.5,-2.7 71.5,0 C71.5,2.7 62.92,4.5 50.05,4.5 C32.89,4.5 17.88,1.35 0,0Z" fill="#0b0b0b" transform="translate(831,553.5) rotate(1)"/>
<path d="M0,0 C17.95,-1.27 33.03,-4.25 50.26,-4.25 C63.18,-4.25 71.8,-2.55 71.8,0 C71.8,2.55 63.18,4.25 50.26,4.25 C33.03,4.25 17.95,1.27 0,0Z" fill="#0b0b0b" transform="translate(831,553.5) rotate(79.5)"/>
<path d="M0,0 C17.75,-1.43 32.66,-4.75 49.7,-4.75 C62.48,-4.75 71,-2.85 71,0 C71,2.85 62.48,4.75 49.7,4.75 C32.66,4.75 17.75,1.43 0,0Z" fill="#0b0b0b" transform="translate(831,553.5) rotate(-117.3)"/>
<path d="M0,0 C17.75,-1.35 32.66,-4.5 49.7,-4.5 C62.48,-4.5 71,-2.7 71,0 C71,2.7 62.48,4.5 49.7,4.5 C32.66,4.5 17.75,1.35 0,0Z" fill="#0b0b0b" transform="translate(831,553.5) rotate(-62.5)"/>
<path d="M0,0 C18.12,-1.8 33.35,-6 50.75,-6 C63.8,-6 72.5,-3.6 72.5,0 C72.5,3.6 63.8,6 50.75,6 C33.35,6 18.12,1.8 0,0Z" fill="#0b0b0b" transform="translate(831,553.5) rotate(-30.6)"/>
<path d="M0,0 C9.5,-0.54 17.48,-1.8 26.6,-1.8 C33.44,-1.8 38,-1.08 38,0 C38,1.08 33.44,1.8 26.6,1.8 C17.48,1.8 9.5,0.54 0,0Z" fill="#0b0b0b" transform="translate(831,553.5) rotate(-130)"/>
<path d="M0,0 C8.25,-0.51 15.18,-1.7 23.1,-1.7 C29.04,-1.7 33,-1.02 33,0 C33,1.02 29.04,1.7 23.1,1.7 C15.18,1.7 8.25,0.51 0,0Z" fill="#0b0b0b" transform="translate(831,553.5) rotate(-164)"/>
<path d="M0,0 C10.5,-0.6 19.32,-2 29.4,-2 C36.96,-2 42,-1.2 42,0 C42,1.2 36.96,2 29.4,2 C19.32,2 10.5,0.6 0,0Z" fill="#0b0b0b" transform="translate(831,553.5) rotate(-47)"/>
<path d="M0,0 C9,-0.51 16.56,-1.7 25.2,-1.7 C31.68,-1.7 36,-1.02 36,0 C36,1.02 31.68,1.7 25.2,1.7 C16.56,1.7 9,0.51 0,0Z" fill="#0b0b0b" transform="translate(831,553.5) rotate(-15)"/>
<path d="M0,0 C4,-0.45 7.36,-1.5 11.2,-1.5 C14.08,-1.5 16,-0.9 16,0 C16,0.9 14.08,1.5 11.2,1.5 C7.36,1.5 4,0.45 0,0Z" fill="#0b0b0b" transform="translate(831,553.5) rotate(-247)"/>
<path d="M0,0 C5.5,-0.42 10.12,-1.4 15.4,-1.4 C19.36,-1.4 22,-0.84 22,0 C22,0.84 19.36,1.4 15.4,1.4 C10.12,1.4 5.5,0.42 0,0Z" fill="#0b0b0b" transform="translate(831,553.5) rotate(18)"/>
<path d="M0,0 C7.5,-0.45 13.8,-1.5 21,-1.5 C26.4,-1.5 30,-0.9 30,0 C30,0.9 26.4,1.5 21,1.5 C13.8,1.5 7.5,0.45 0,0Z" fill="#0b0b0b" transform="translate(831,553.5) rotate(-40)"/>
<path d="M0,0 C7.5,-0.45 13.8,-1.5 21,-1.5 C26.4,-1.5 30,-0.9 30,0 C30,0.9 26.4,1.5 21,1.5 C13.8,1.5 7.5,0.45 0,0Z" fill="#0b0b0b" transform="translate(831,553.5) rotate(-22)"/>
<path d="M0,0 C8.5,-0.45 15.64,-1.5 23.8,-1.5 C29.92,-1.5 34,-0.9 34,0 C34,0.9 29.92,1.5 23.8,1.5 C15.64,1.5 8.5,0.45 0,0Z" fill="#0b0b0b" transform="translate(831,553.5) rotate(-55)"/>
<path d="M0,0 C6,-0.39 11.04,-1.3 16.8,-1.3 C21.12,-1.3 24,-0.78 24,0 C24,0.78 21.12,1.3 16.8,1.3 C11.04,1.3 6,0.39 0,0Z" fill="#0b0b0b" transform="translate(831,553.5) rotate(-172)"/>
<path d="M0,0 C4.5,-0.45 8.28,-1.5 12.6,-1.5 C15.84,-1.5 18,-0.9 18,0 C18,0.9 15.84,1.5 12.6,1.5 C8.28,1.5 4.5,0.45 0,0Z" fill="#0b0b0b" transform="translate(831,553.5) rotate(100)"/>
<path d="M0,0 C5,-0.45 9.2,-1.5 14,-1.5 C17.6,-1.5 20,-0.9 20,0 C20,0.9 17.6,1.5 14,1.5 C9.2,1.5 5,0.45 0,0Z" fill="#0b0b0b" transform="translate(831,553.5) rotate(65)"/>
<path d="M0,0 C3.5,-0.36 6.44,-1.2 9.8,-1.2 C12.32,-1.2 14,-0.72 14,0 C14,0.72 12.32,1.2 9.8,1.2 C6.44,1.2 3.5,0.36 0,0Z" fill="#0b0b0b" transform="translate(831,553.5) rotate(112)"/>
<path d="M0,0 C3,-0.33 5.52,-1.1 8.4,-1.1 C10.56,-1.1 12,-0.66 12,0 C12,0.66 10.56,1.1 8.4,1.1 C5.52,1.1 3,0.33 0,0Z" fill="#0b0b0b" transform="translate(831,553.5) rotate(-100)"/>
<path d="M0,0 C6.5,-0.36 11.96,-1.2 18.2,-1.2 C22.88,-1.2 26,-0.72 26,0 C26,0.72 22.88,1.2 18.2,1.2 C11.96,1.2 6.5,0.36 0,0Z" fill="#0b0b0b" transform="translate(831,553.5) rotate(-8)"/>
<circle cx="831" cy="553.5" r="72" fill="none" stroke="#111" stroke-width="1.5"/>
<path d="M893.35,517.5 L896.38,515.75" stroke="#111" stroke-width="1.2"/>
<path d="M831,481.5 L831,478" stroke="#111" stroke-width="1.2"/>
<path d="M768.65,517.5 L765.62,515.75" stroke="#111" stroke-width="1.2"/>
<path d="M768.65,589.5 L765.62,591.25" stroke="#111" stroke-width="1.2"/>
<path d="M831,625.5 L831,629" stroke="#111" stroke-width="1.2"/>
<path d="M893.35,589.5 L896.38,591.25" stroke="#111" stroke-width="1.2"/>
<path d="M817.2,577.8 A28,28 0 0 0 843.5,578.6" fill="none" stroke="#111" stroke-width="1.3"/><path d="M846.8,576.4 L839.8,577 L843.4,582.6 Z" fill="#111"/>
<path d="M844,578.2 L836.5,582.4" stroke="#111" stroke-width="1.1"/>
<text x="743" y="512.2" font-size="13" textLength="27.5" lengthAdjust="spacingAndGlyphs" >150°</text>
<text x="897" y="512.2" font-size="13" textLength="20" lengthAdjust="spacingAndGlyphs" >30°</text>
<circle cx="908.4" cy="556.6" r="2.5" fill="#111"/>
<text x="909.5" y="548.5" font-size="13" textLength="34.5" lengthAdjust="spacingAndGlyphs" >Link 4</text>
<text x="696" y="557" font-size="14.5" font-family='"Liberation Serif", serif' font-style="italic" >θ</text>
<circle cx="753.4" cy="556.6" r="2.5" fill="#111"/>
<text x="717.7" y="574.6" font-size="13" textLength="34.5" lengthAdjust="spacingAndGlyphs" >Link 9</text>
<text x="741.5" y="604.2" font-size="13" textLength="27.5" lengthAdjust="spacingAndGlyphs" >210°</text>
<text x="897" y="604.2" font-size="13" textLength="27.5" lengthAdjust="spacingAndGlyphs" >330°</text>
<text x="808" y="598.7" font-size="13" textLength="21" lengthAdjust="spacingAndGlyphs" >66°</text>
<text x="738" y="640" font-size="13" textLength="48.5" lengthAdjust="spacingAndGlyphs" >BA-type</text>
<path d="M735,646.6 L793,646.6 L817,609.5" fill="none" stroke="#111" stroke-width="1.5"/>
<circle cx="817.3" cy="608.6" r="2.1" fill="#111"/>
<text x="819.5" y="642.8" font-size="13" textLength="27.5" lengthAdjust="spacingAndGlyphs" >270°</text>
<circle cx="844.5" cy="628.3" r="2.5" fill="#111"/>
<text x="852" y="635.6" font-size="13" textLength="33" lengthAdjust="spacingAndGlyphs" >Link 1</text>
<text x="967" y="569" font-size="12.6" textLength="237" lengthAdjust="spacingAndGlyphs" transform="rotate(-90 967 569)" >360° full azimuthal beamforming driven by</text>
<text x="983.2" y="569" font-size="12.6" textLength="234.5" lengthAdjust="spacingAndGlyphs" transform="rotate(-90 983.2 569)" >neural-network-assisted gradient descent</text>
</svg>
</body></html>
